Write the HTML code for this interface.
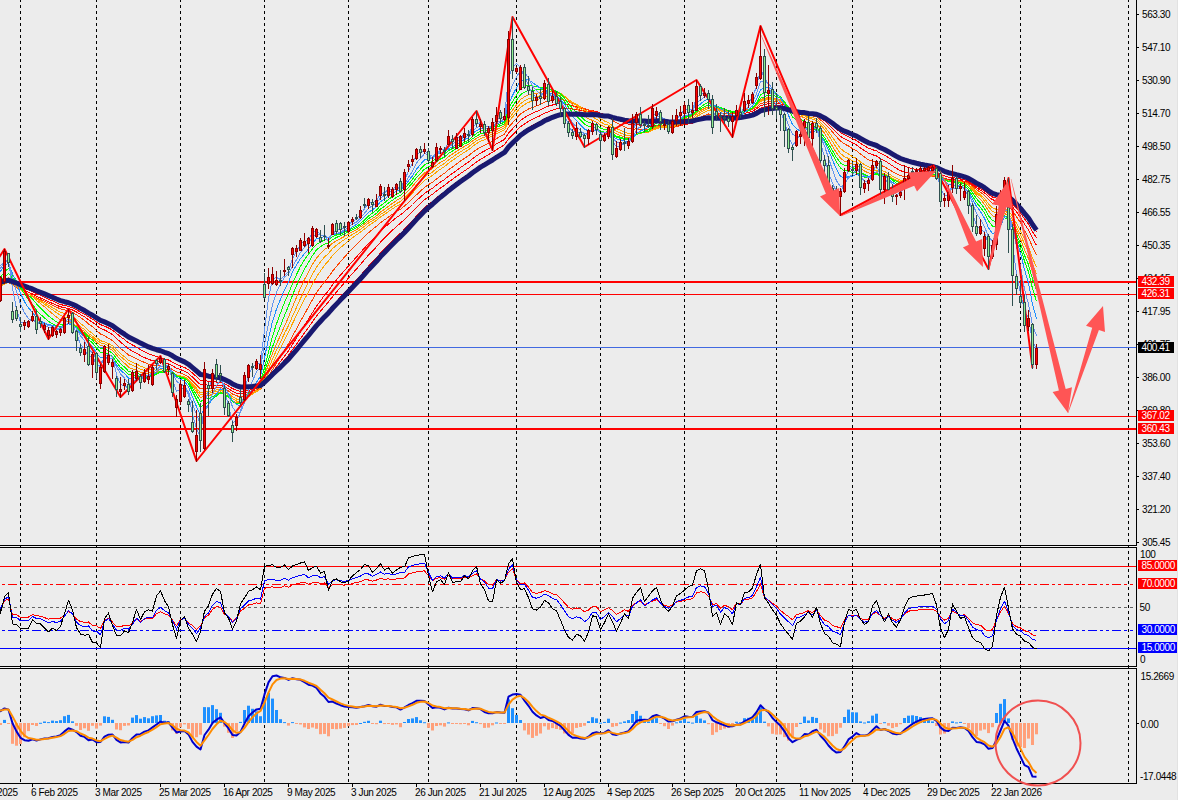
<!DOCTYPE html>
<html><head><meta charset="utf-8"><title>Chart</title>
<style>html,body{margin:0;padding:0;background:#ececec;overflow:hidden}svg{display:block}</style>
</head><body><svg width="1179" height="800" viewBox="0 0 1179 800"><rect width="1179" height="800" fill="#ececec"/><defs><clipPath id="cm"><rect x="0" y="0" width="1136" height="545"/></clipPath><clipPath id="cs"><rect x="0" y="548" width="1136" height="118"/></clipPath><clipPath id="cd"><rect x="0" y="669" width="1136" height="114"/></clipPath></defs><line x1="0" y1="546.5" x2="1137" y2="546.5" stroke="#f4f4f4" stroke-width="1" /><line x1="0" y1="667.5" x2="1137" y2="667.5" stroke="#f4f4f4" stroke-width="1" /><line x1="20.5" y1="0" x2="20.5" y2="783" stroke="#000" stroke-width="1" stroke-dasharray="3 3" stroke-dashoffset="1"/><line x1="96.5" y1="0" x2="96.5" y2="783" stroke="#000" stroke-width="1" stroke-dasharray="3 3" stroke-dashoffset="1"/><line x1="180.5" y1="0" x2="180.5" y2="783" stroke="#000" stroke-width="1" stroke-dasharray="3 3" stroke-dashoffset="1"/><line x1="264.5" y1="0" x2="264.5" y2="783" stroke="#000" stroke-width="1" stroke-dasharray="3 3" stroke-dashoffset="1"/><line x1="348.5" y1="0" x2="348.5" y2="783" stroke="#000" stroke-width="1" stroke-dasharray="3 3" stroke-dashoffset="1"/><line x1="428.5" y1="0" x2="428.5" y2="783" stroke="#000" stroke-width="1" stroke-dasharray="3 3" stroke-dashoffset="1"/><line x1="516.5" y1="0" x2="516.5" y2="783" stroke="#000" stroke-width="1" stroke-dasharray="3 3" stroke-dashoffset="1"/><line x1="600.5" y1="0" x2="600.5" y2="783" stroke="#000" stroke-width="1" stroke-dasharray="3 3" stroke-dashoffset="1"/><line x1="684.5" y1="0" x2="684.5" y2="783" stroke="#000" stroke-width="1" stroke-dasharray="3 3" stroke-dashoffset="1"/><line x1="776.5" y1="0" x2="776.5" y2="783" stroke="#000" stroke-width="1" stroke-dasharray="3 3" stroke-dashoffset="1"/><line x1="852.5" y1="0" x2="852.5" y2="783" stroke="#000" stroke-width="1" stroke-dasharray="3 3" stroke-dashoffset="1"/><line x1="940.5" y1="0" x2="940.5" y2="783" stroke="#000" stroke-width="1" stroke-dasharray="3 3" stroke-dashoffset="1"/><line x1="1020.5" y1="0" x2="1020.5" y2="783" stroke="#000" stroke-width="1" stroke-dasharray="3 3" stroke-dashoffset="1"/><line x1="1128.5" y1="0" x2="1128.5" y2="783" stroke="#000" stroke-width="1" stroke-dasharray="3 3" stroke-dashoffset="1"/><g clip-path="url(#cm)"><line x1="0" y1="282" x2="1136" y2="282" stroke="#ff0000" stroke-width="2" /><line x1="0" y1="294.5" x2="1136" y2="294.5" stroke="#ff0000" stroke-width="1" /><line x1="0" y1="347.5" x2="1136" y2="347.5" stroke="#4169e1" stroke-width="1" /><line x1="0" y1="416.5" x2="1136" y2="416.5" stroke="#ff0000" stroke-width="1" /><line x1="0" y1="429" x2="1136" y2="429" stroke="#ff0000" stroke-width="2" /><polyline points="-3.5,282.5 0.5,282.2 4.5,280.9 8.5,280.0 12.5,281.6 16.5,283.1 20.5,284.9 24.5,286.5 28.5,288.1 32.5,289.5 36.5,291.3 40.5,293.0 44.5,294.6 48.5,296.4 52.5,298.1 56.5,299.9 60.5,301.5 64.5,302.6 68.5,303.6 72.5,305.2 76.5,307.1 80.5,309.4 84.5,311.5 88.5,314.1 92.5,316.2 96.5,319.0 100.5,321.4 104.5,322.9 108.5,324.7 112.5,326.7 116.5,329.8 120.5,332.8 124.5,335.4 128.5,338.3 132.5,340.3 136.5,342.2 140.5,344.6 144.5,346.4 148.5,348.4 152.5,349.9 156.5,351.2 160.5,352.3 164.5,353.9 168.5,355.2 172.5,357.5 176.5,360.0 180.5,361.7 184.5,363.4 188.5,365.8 192.5,369.2 196.5,372.5 200.5,376.0 204.5,376.4 208.5,377.5 212.5,377.9 216.5,378.5 220.5,378.9 224.5,380.6 228.5,382.6 232.5,385.1 236.5,387.0 240.5,388.2 244.5,388.2 248.5,387.7 252.5,387.3 256.5,386.7 260.5,386.1 264.5,382.7 268.5,378.6 272.5,374.4 276.5,370.5 280.5,366.7 284.5,362.5 288.5,358.4 292.5,353.5 296.5,348.6 300.5,343.6 304.5,338.7 308.5,333.7 312.5,328.5 316.5,323.5 320.5,319.0 324.5,314.5 328.5,310.5 332.5,305.8 336.5,301.4 340.5,297.1 344.5,292.9 348.5,288.5 352.5,284.2 356.5,279.9 360.5,275.4 364.5,270.9 368.5,266.2 372.5,262.0 376.5,257.7 380.5,253.1 384.5,248.9 388.5,244.7 392.5,240.7 396.5,236.8 400.5,233.3 404.5,229.2 408.5,224.9 412.5,220.6 416.5,216.1 420.5,211.9 424.5,207.8 428.5,204.5 432.5,201.4 436.5,197.9 440.5,194.6 444.5,191.7 448.5,188.3 452.5,185.3 456.5,182.4 460.5,179.5 464.5,176.6 468.5,174.0 472.5,170.8 476.5,167.9 480.5,165.2 484.5,162.9 488.5,160.6 492.5,158.1 496.5,155.4 500.5,153.0 504.5,150.6 508.5,145.1 512.5,141.1 516.5,137.1 520.5,133.2 524.5,130.3 528.5,127.6 532.5,125.5 536.5,123.4 540.5,121.4 544.5,118.8 548.5,117.2 552.5,115.4 556.5,114.1 560.5,113.0 564.5,112.6 568.5,112.6 572.5,112.8 576.5,112.8 580.5,113.2 584.5,113.7 588.5,113.9 592.5,113.8 596.5,114.1 600.5,114.8 604.5,115.4 608.5,115.7 612.5,117.0 616.5,118.2 620.5,119.1 624.5,120.0 628.5,120.9 632.5,121.1 636.5,120.9 640.5,121.1 644.5,121.4 648.5,121.8 652.5,121.4 656.5,121.1 660.5,121.3 664.5,121.7 668.5,122.3 672.5,122.5 676.5,122.5 680.5,122.3 684.5,121.9 688.5,121.8 692.5,121.6 696.5,120.4 700.5,119.6 704.5,118.7 708.5,118.0 712.5,118.4 716.5,118.3 720.5,118.2 724.5,118.2 728.5,118.3 732.5,118.1 736.5,117.7 740.5,117.4 744.5,116.6 748.5,115.8 752.5,114.7 756.5,112.9 760.5,110.3 764.5,109.2 768.5,108.1 772.5,107.8 776.5,107.5 780.5,107.4 784.5,108.1 788.5,109.4 792.5,110.8 796.5,111.4 800.5,112.2 804.5,112.4 808.5,113.3 812.5,113.6 816.5,114.1 820.5,116.0 824.5,118.1 828.5,120.8 832.5,123.8 836.5,127.0 840.5,129.9 844.5,132.0 848.5,133.5 852.5,135.4 856.5,137.0 860.5,139.5 864.5,141.9 868.5,144.0 872.5,145.5 876.5,146.7 880.5,149.1 884.5,150.8 888.5,153.1 892.5,155.5 896.5,157.8 900.5,159.9 904.5,161.4 908.5,162.7 912.5,163.8 916.5,164.7 920.5,165.6 924.5,166.4 928.5,167.1 932.5,167.8 936.5,168.9 940.5,170.9 944.5,172.6 948.5,174.0 952.5,174.8 956.5,175.8 960.5,176.7 964.5,177.7 968.5,179.2 972.5,181.5 976.5,184.0 980.5,186.1 984.5,188.5 988.5,191.7 992.5,194.4 996.5,195.6 1000.5,196.1 1004.5,195.9 1008.5,197.6 1012.5,201.1 1016.5,205.0 1020.5,209.4 1024.5,214.6 1028.5,219.5 1032.5,226.1 1036.5,231.9" fill="none" stroke="#ff0000" stroke-width="1" stroke-linejoin="round" shape-rendering="crispEdges"/><polyline points="-3.5,282.4 0.5,282.2 4.5,280.9 8.5,280.1 12.5,282.1 16.5,283.9 20.5,286.1 24.5,288.1 28.5,289.9 32.5,291.5 36.5,293.6 40.5,295.4 44.5,297.2 48.5,299.2 52.5,300.9 56.5,302.8 60.5,304.5 64.5,305.5 68.5,306.4 72.5,307.9 76.5,309.8 80.5,312.1 84.5,314.2 88.5,316.9 92.5,319.1 96.5,322.0 100.5,324.6 104.5,326.1 108.5,328.0 112.5,330.1 116.5,333.5 120.5,336.7 124.5,339.6 128.5,342.8 132.5,345.0 136.5,347.1 140.5,349.6 144.5,351.7 148.5,353.7 152.5,355.3 156.5,356.6 160.5,357.5 164.5,358.9 168.5,360.0 172.5,362.1 176.5,364.5 180.5,366.0 184.5,367.4 188.5,369.7 192.5,373.1 196.5,376.6 200.5,380.3 204.5,380.4 208.5,381.4 212.5,381.7 216.5,382.1 220.5,382.3 224.5,384.0 228.5,385.9 232.5,388.6 236.5,390.4 240.5,391.4 244.5,391.1 248.5,390.3 252.5,389.5 256.5,388.5 260.5,387.6 264.5,383.6 268.5,378.7 272.5,373.8 276.5,369.2 280.5,364.8 284.5,359.9 288.5,355.2 292.5,349.6 296.5,344.1 300.5,338.4 304.5,333.0 308.5,327.5 312.5,321.7 316.5,316.1 320.5,311.3 324.5,306.4 328.5,302.0 332.5,296.7 336.5,292.0 340.5,287.3 344.5,282.7 348.5,278.0 352.5,273.4 356.5,269.0 360.5,264.3 364.5,259.7 368.5,255.1 372.5,250.9 376.5,246.8 380.5,242.2 384.5,238.2 388.5,234.1 392.5,230.2 396.5,226.4 400.5,223.2 404.5,219.3 408.5,215.3 412.5,211.4 416.5,207.2 420.5,203.5 424.5,199.8 428.5,196.8 432.5,194.2 436.5,191.1 440.5,188.1 444.5,185.4 448.5,182.1 452.5,179.3 456.5,176.4 460.5,173.6 464.5,170.8 468.5,168.2 472.5,164.9 476.5,162.0 480.5,159.3 484.5,157.1 488.5,154.7 492.5,152.3 496.5,149.6 500.5,147.2 504.5,144.8 508.5,139.0 512.5,134.9 516.5,130.8 520.5,126.8 524.5,123.9 528.5,121.4 532.5,119.4 536.5,117.4 540.5,115.5 544.5,113.1 548.5,111.7 552.5,110.1 556.5,108.9 560.5,108.1 564.5,108.0 568.5,108.4 572.5,109.1 576.5,109.4 580.5,110.2 584.5,111.1 588.5,111.6 592.5,111.9 596.5,112.4 600.5,113.5 604.5,114.3 608.5,114.9 612.5,116.7 616.5,118.2 620.5,119.4 624.5,120.6 628.5,121.8 632.5,122.1 636.5,122.0 640.5,122.4 644.5,122.9 648.5,123.4 652.5,123.0 656.5,122.8 660.5,123.1 664.5,123.6 668.5,124.3 672.5,124.6 676.5,124.6 680.5,124.4 684.5,123.8 688.5,123.4 692.5,123.0 696.5,121.4 700.5,120.2 704.5,118.9 708.5,117.9 712.5,118.2 716.5,117.9 720.5,117.7 724.5,117.5 728.5,117.4 732.5,117.1 736.5,116.5 740.5,116.2 744.5,115.2 748.5,114.2 752.5,113.0 756.5,111.1 760.5,108.2 764.5,107.1 768.5,105.9 772.5,105.6 776.5,105.4 780.5,105.4 784.5,106.3 788.5,108.0 792.5,109.7 796.5,110.6 800.5,111.6 804.5,112.0 808.5,113.2 812.5,113.7 816.5,114.4 820.5,116.6 824.5,119.0 828.5,122.1 832.5,125.5 836.5,129.1 840.5,132.5 844.5,134.8 848.5,136.6 852.5,138.7 856.5,140.5 860.5,143.4 864.5,145.9 868.5,148.2 872.5,149.7 876.5,150.9 880.5,153.4 884.5,155.2 888.5,157.6 892.5,160.1 896.5,162.6 900.5,164.8 904.5,166.3 908.5,167.6 912.5,168.7 916.5,169.6 920.5,170.3 924.5,170.9 928.5,171.4 932.5,171.8 936.5,172.6 940.5,174.4 944.5,175.9 948.5,177.1 952.5,177.5 956.5,178.3 960.5,179.0 964.5,179.9 968.5,181.4 972.5,183.8 976.5,186.3 980.5,188.5 984.5,191.0 988.5,194.3 992.5,197.0 996.5,198.1 1000.5,198.4 1004.5,197.9 1008.5,199.8 1012.5,203.7 1016.5,208.1 1020.5,213.1 1024.5,218.9 1028.5,224.3 1032.5,231.6 1036.5,238.0" fill="none" stroke="#ff0000" stroke-width="1" stroke-linejoin="round" shape-rendering="crispEdges"/><polyline points="-3.5,283.6 0.5,283.5 4.5,282.1 8.5,281.3 12.5,283.5 16.5,285.6 20.5,288.1 24.5,290.3 28.5,292.3 32.5,294.0 36.5,296.2 40.5,298.0 44.5,299.8 48.5,301.8 52.5,303.4 56.5,305.2 60.5,306.8 64.5,307.7 68.5,308.4 72.5,310.0 76.5,312.0 80.5,314.5 84.5,316.8 88.5,319.8 92.5,322.2 96.5,325.4 100.5,328.4 104.5,330.0 108.5,332.1 112.5,334.6 116.5,338.4 120.5,342.1 124.5,345.3 128.5,348.8 132.5,351.2 136.5,353.2 140.5,355.7 144.5,357.6 148.5,359.4 152.5,360.6 156.5,361.4 160.5,361.8 164.5,362.9 168.5,363.7 172.5,365.8 176.5,368.2 180.5,369.6 184.5,371.1 188.5,373.4 192.5,377.1 196.5,380.9 200.5,384.7 204.5,384.6 208.5,385.4 212.5,385.3 216.5,385.4 220.5,385.2 224.5,386.8 228.5,388.7 232.5,391.4 236.5,393.2 240.5,394.1 244.5,393.5 248.5,392.3 252.5,391.2 256.5,389.8 260.5,388.5 264.5,383.7 268.5,377.9 272.5,372.1 276.5,366.8 280.5,361.7 284.5,356.2 288.5,350.7 292.5,344.3 296.5,338.1 300.5,331.6 304.5,325.3 308.5,319.1 312.5,312.5 316.5,306.2 320.5,300.8 324.5,295.3 328.5,290.6 332.5,284.9 336.5,279.9 340.5,275.1 344.5,270.5 348.5,265.9 352.5,261.4 356.5,257.0 360.5,252.5 364.5,248.0 368.5,243.4 372.5,239.4 376.5,235.4 380.5,231.1 384.5,227.6 388.5,224.0 392.5,220.8 396.5,217.5 400.5,214.9 404.5,211.6 408.5,208.1 412.5,204.5 416.5,200.6 420.5,197.0 424.5,193.4 428.5,190.7 432.5,188.2 436.5,185.1 440.5,182.1 444.5,179.5 448.5,176.2 452.5,173.4 456.5,170.4 460.5,167.6 464.5,164.7 468.5,162.1 472.5,158.8 476.5,155.8 480.5,153.1 484.5,151.0 488.5,148.8 492.5,146.5 496.5,143.9 500.5,141.6 504.5,139.4 508.5,133.1 512.5,128.8 516.5,124.5 520.5,120.4 524.5,117.6 528.5,115.1 532.5,113.3 536.5,111.5 540.5,109.9 544.5,107.5 548.5,106.3 552.5,105.0 556.5,104.1 560.5,103.6 564.5,104.0 568.5,104.9 572.5,105.9 576.5,106.7 580.5,107.9 584.5,109.2 588.5,110.1 592.5,110.7 596.5,111.6 600.5,113.2 604.5,114.4 608.5,115.3 612.5,117.6 616.5,119.5 620.5,121.1 624.5,122.7 628.5,124.1 632.5,124.6 636.5,124.6 640.5,125.2 644.5,125.8 648.5,126.4 652.5,126.0 656.5,125.7 660.5,125.9 664.5,126.2 668.5,126.8 672.5,126.7 676.5,126.3 680.5,125.7 684.5,124.7 688.5,124.0 692.5,123.3 696.5,121.2 700.5,119.6 704.5,117.9 708.5,116.5 712.5,116.7 716.5,116.3 720.5,115.9 724.5,115.7 728.5,115.7 732.5,115.4 736.5,114.8 740.5,114.5 744.5,113.4 748.5,112.4 752.5,111.1 756.5,108.9 760.5,105.8 764.5,104.7 768.5,103.5 772.5,103.4 776.5,103.5 780.5,103.8 784.5,104.9 788.5,107.1 792.5,109.2 796.5,110.4 800.5,111.7 804.5,112.2 808.5,113.6 812.5,114.3 816.5,115.1 820.5,117.8 824.5,120.6 828.5,124.3 832.5,128.3 836.5,132.5 840.5,136.3 844.5,138.9 848.5,140.7 852.5,143.0 856.5,144.9 860.5,147.9 864.5,150.7 868.5,153.1 872.5,154.7 876.5,156.0 880.5,158.7 884.5,160.6 888.5,163.1 892.5,165.9 896.5,168.4 900.5,170.7 904.5,172.0 908.5,173.0 912.5,173.6 916.5,174.1 920.5,174.3 924.5,174.5 928.5,174.5 932.5,174.5 936.5,175.0 940.5,176.8 944.5,178.2 948.5,179.3 952.5,179.5 956.5,180.1 960.5,180.6 964.5,181.2 968.5,182.6 972.5,185.0 976.5,187.8 980.5,190.1 984.5,192.8 988.5,196.7 992.5,199.7 996.5,201.0 1000.5,201.3 1004.5,200.6 1008.5,202.6 1012.5,207.0 1016.5,211.9 1020.5,217.5 1024.5,224.1 1028.5,230.0 1032.5,238.3 1036.5,245.4" fill="none" stroke="#ff0000" stroke-width="1" stroke-linejoin="round" shape-rendering="crispEdges"/><polyline points="-3.5,285.8 0.5,285.7 4.5,283.8 8.5,282.6 12.5,285.1 16.5,287.3 20.5,289.9 24.5,292.1 28.5,294.1 32.5,295.6 36.5,297.8 40.5,299.6 44.5,301.4 48.5,303.4 52.5,305.2 56.5,307.1 60.5,308.9 64.5,309.9 68.5,310.6 72.5,312.4 76.5,314.7 80.5,317.6 84.5,320.3 88.5,323.9 92.5,326.7 96.5,330.6 100.5,334.0 104.5,335.9 108.5,338.2 112.5,340.7 116.5,344.7 120.5,348.5 124.5,351.6 128.5,355.0 132.5,356.9 136.5,358.6 140.5,360.8 144.5,362.4 148.5,364.1 152.5,365.0 156.5,365.6 160.5,365.8 164.5,366.8 168.5,367.3 172.5,369.5 176.5,371.9 180.5,373.3 184.5,374.6 188.5,376.9 192.5,380.8 196.5,384.8 200.5,388.9 204.5,388.2 208.5,388.7 212.5,388.2 216.5,387.9 220.5,387.4 224.5,389.0 228.5,391.0 232.5,394.0 236.5,395.8 240.5,396.6 244.5,395.6 248.5,394.0 252.5,392.6 256.5,390.9 260.5,389.3 264.5,383.4 268.5,376.5 272.5,369.5 276.5,363.1 280.5,357.0 284.5,350.3 288.5,343.8 292.5,336.1 296.5,328.8 300.5,321.2 304.5,314.1 308.5,307.0 312.5,299.6 316.5,292.8 320.5,287.2 324.5,281.7 328.5,277.0 332.5,271.3 336.5,266.4 340.5,261.6 344.5,257.1 348.5,252.6 352.5,248.3 356.5,244.4 360.5,240.4 364.5,236.6 368.5,232.7 372.5,229.4 376.5,226.3 380.5,222.6 384.5,219.9 388.5,216.9 392.5,214.2 396.5,211.3 400.5,209.2 404.5,206.0 408.5,202.4 412.5,198.8 416.5,194.8 420.5,191.1 424.5,187.4 428.5,184.7 432.5,182.2 436.5,178.9 440.5,175.9 444.5,173.2 448.5,169.8 452.5,166.9 456.5,164.0 460.5,161.1 464.5,158.3 468.5,155.8 472.5,152.5 476.5,149.6 480.5,147.1 484.5,145.2 488.5,143.2 492.5,141.0 496.5,138.5 500.5,136.4 504.5,134.2 508.5,127.3 512.5,122.8 516.5,118.3 520.5,114.0 524.5,111.3 528.5,109.0 532.5,107.5 536.5,105.9 540.5,104.4 544.5,102.2 548.5,101.2 552.5,100.0 556.5,99.4 560.5,99.3 564.5,100.2 568.5,101.7 572.5,103.5 576.5,104.8 580.5,106.6 584.5,108.6 588.5,110.0 592.5,111.0 596.5,112.4 600.5,114.4 604.5,116.2 608.5,117.4 612.5,120.3 616.5,122.8 620.5,124.8 624.5,126.8 628.5,128.7 632.5,129.2 636.5,128.9 640.5,129.2 644.5,129.5 648.5,129.8 652.5,128.8 656.5,127.9 660.5,127.7 664.5,127.7 668.5,128.0 672.5,127.6 676.5,126.7 680.5,125.7 684.5,124.2 688.5,123.1 692.5,122.0 696.5,119.4 700.5,117.4 704.5,115.5 708.5,114.0 712.5,114.3 716.5,113.9 720.5,113.6 724.5,113.5 728.5,113.6 732.5,113.3 736.5,112.8 740.5,112.6 744.5,111.7 748.5,110.7 752.5,109.5 756.5,107.2 760.5,103.7 764.5,102.6 768.5,101.5 772.5,101.6 776.5,101.8 780.5,102.3 784.5,103.8 788.5,106.5 792.5,109.2 796.5,110.7 800.5,112.4 804.5,113.2 808.5,115.0 812.5,115.8 816.5,116.8 820.5,119.9 824.5,123.2 828.5,127.4 832.5,131.9 836.5,136.7 840.5,141.0 844.5,143.9 848.5,146.0 852.5,148.6 856.5,150.6 860.5,154.1 864.5,157.1 868.5,159.8 872.5,161.3 876.5,162.4 880.5,165.2 884.5,166.8 888.5,169.1 892.5,171.6 896.5,173.8 900.5,175.7 904.5,176.5 908.5,177.1 912.5,177.3 916.5,177.4 920.5,177.3 924.5,177.1 928.5,176.7 932.5,176.3 936.5,176.5 940.5,178.0 944.5,179.3 948.5,180.1 952.5,180.0 956.5,180.6 960.5,181.0 964.5,181.8 968.5,183.4 972.5,186.3 976.5,189.6 980.5,192.2 984.5,195.4 988.5,199.8 992.5,203.3 996.5,204.6 1000.5,204.7 1004.5,203.7 1008.5,205.8 1012.5,210.9 1016.5,216.6 1020.5,223.0 1024.5,230.7 1028.5,237.6 1032.5,247.1 1036.5,255.2" fill="none" stroke="#ff4500" stroke-width="1" stroke-linejoin="round" shape-rendering="crispEdges"/><polyline points="-3.5,287.9 0.5,287.0 4.5,284.0 8.5,282.0 12.5,284.5 16.5,286.8 20.5,289.7 24.5,292.0 28.5,294.2 32.5,295.9 36.5,298.6 40.5,300.7 44.5,302.8 48.5,305.3 52.5,307.5 56.5,310.0 60.5,312.2 64.5,313.4 68.5,314.5 72.5,316.8 76.5,319.7 80.5,323.4 84.5,326.5 88.5,330.5 92.5,333.4 96.5,337.4 100.5,340.7 104.5,341.9 108.5,343.5 112.5,345.6 116.5,349.7 120.5,353.6 124.5,356.8 128.5,360.4 132.5,362.3 136.5,363.9 140.5,366.2 144.5,367.7 148.5,369.2 152.5,369.9 156.5,370.1 160.5,369.8 164.5,370.4 168.5,370.4 172.5,372.4 176.5,374.8 180.5,375.8 184.5,376.8 188.5,379.2 192.5,383.6 196.5,388.2 200.5,392.9 204.5,391.6 208.5,391.8 212.5,390.7 216.5,390.0 220.5,389.2 224.5,390.9 228.5,393.3 232.5,396.8 236.5,399.0 240.5,399.8 244.5,398.4 248.5,396.2 252.5,394.1 256.5,391.6 260.5,389.3 264.5,381.6 268.5,372.6 272.5,363.7 276.5,355.8 280.5,348.2 284.5,340.1 288.5,332.4 292.5,323.5 296.5,315.3 300.5,307.1 304.5,299.3 308.5,291.9 312.5,284.0 316.5,276.8 320.5,271.0 324.5,265.3 328.5,261.0 332.5,255.6 336.5,251.4 340.5,247.6 344.5,244.2 348.5,240.8 352.5,237.7 356.5,234.9 360.5,232.0 364.5,229.0 368.5,225.7 372.5,223.1 376.5,220.4 380.5,216.9 384.5,214.4 388.5,211.5 392.5,208.9 396.5,206.2 400.5,204.2 404.5,200.8 408.5,197.0 412.5,193.0 416.5,188.5 420.5,184.5 424.5,180.6 428.5,177.8 432.5,175.4 436.5,172.1 440.5,169.1 444.5,166.6 448.5,163.2 452.5,160.4 456.5,157.5 460.5,154.9 464.5,152.2 468.5,149.9 472.5,146.5 476.5,143.7 480.5,141.3 484.5,139.7 488.5,137.9 492.5,135.9 496.5,133.6 500.5,131.7 504.5,129.8 508.5,122.0 512.5,117.0 516.5,112.1 520.5,107.5 524.5,104.7 528.5,102.3 532.5,101.1 536.5,99.7 540.5,98.6 544.5,96.5 548.5,96.0 552.5,95.2 556.5,95.1 560.5,95.5 564.5,97.2 568.5,99.7 572.5,102.4 576.5,104.4 580.5,107.1 584.5,110.0 588.5,112.1 592.5,113.7 596.5,115.8 600.5,118.6 604.5,121.0 608.5,122.5 612.5,125.9 616.5,128.5 620.5,130.4 624.5,132.2 628.5,133.6 632.5,133.5 636.5,132.6 640.5,132.4 644.5,132.2 648.5,131.9 652.5,130.1 656.5,128.6 660.5,127.8 664.5,127.3 668.5,127.3 672.5,126.6 676.5,125.4 680.5,124.1 684.5,122.3 688.5,121.1 692.5,119.8 696.5,116.6 700.5,114.4 704.5,112.1 708.5,110.4 712.5,111.1 716.5,110.9 720.5,111.0 724.5,111.2 728.5,111.8 732.5,112.0 736.5,111.7 740.5,111.7 744.5,110.8 748.5,109.9 752.5,108.5 756.5,105.8 760.5,101.5 764.5,100.4 768.5,99.3 772.5,99.7 776.5,100.2 780.5,101.1 784.5,103.2 788.5,106.8 792.5,110.3 796.5,112.1 800.5,114.1 804.5,114.8 808.5,116.8 812.5,117.7 816.5,118.8 820.5,122.5 824.5,126.5 828.5,131.7 832.5,137.4 836.5,143.2 840.5,148.4 844.5,151.7 848.5,153.9 852.5,156.6 856.5,158.5 860.5,161.9 864.5,164.7 868.5,166.9 872.5,167.7 876.5,168.0 880.5,170.4 884.5,171.5 888.5,173.6 892.5,176.1 896.5,178.3 900.5,180.1 904.5,180.5 908.5,180.5 912.5,180.1 916.5,179.4 920.5,178.5 924.5,177.6 928.5,176.7 932.5,175.9 936.5,176.0 940.5,178.0 944.5,179.7 948.5,180.7 952.5,180.6 956.5,181.2 960.5,181.7 964.5,182.5 968.5,184.5 972.5,187.9 976.5,191.8 980.5,194.9 984.5,198.6 988.5,203.8 992.5,207.9 996.5,209.4 1000.5,209.4 1004.5,208.0 1008.5,210.5 1012.5,216.5 1016.5,223.2 1020.5,230.6 1024.5,239.4 1028.5,247.1 1032.5,258.0 1036.5,267.0" fill="none" stroke="#ffa500" stroke-width="1" stroke-linejoin="round" shape-rendering="crispEdges"/><polyline points="-3.5,287.6 0.5,286.4 4.5,282.7 8.5,280.3 12.5,283.0 16.5,285.6 20.5,288.8 24.5,291.5 28.5,294.1 32.5,296.0 36.5,299.1 40.5,301.6 44.5,304.2 48.5,307.1 52.5,309.8 56.5,312.7 60.5,315.3 64.5,316.8 68.5,317.9 72.5,320.3 76.5,323.2 80.5,326.7 84.5,329.6 88.5,333.5 92.5,336.1 96.5,339.8 100.5,342.9 104.5,343.9 108.5,345.6 112.5,347.8 116.5,352.3 120.5,356.4 124.5,359.8 128.5,363.6 132.5,365.4 136.5,366.9 140.5,369.3 144.5,370.6 148.5,372.0 152.5,372.3 156.5,372.0 160.5,371.1 164.5,371.4 168.5,371.1 172.5,373.1 176.5,375.6 180.5,376.5 184.5,377.5 188.5,380.2 192.5,385.0 196.5,389.9 200.5,394.9 204.5,393.3 208.5,393.4 212.5,392.2 216.5,391.4 220.5,390.4 224.5,392.3 228.5,394.8 232.5,398.7 236.5,401.0 240.5,401.7 244.5,399.8 248.5,396.8 252.5,394.1 256.5,390.9 260.5,388.1 264.5,379.3 268.5,369.0 272.5,359.0 276.5,350.1 280.5,341.9 284.5,333.4 288.5,325.5 292.5,316.2 296.5,307.5 300.5,298.5 304.5,290.3 308.5,282.4 312.5,274.3 316.5,267.1 320.5,261.8 324.5,256.9 328.5,253.5 332.5,248.7 336.5,245.3 340.5,242.2 344.5,239.5 348.5,236.9 352.5,234.4 356.5,232.1 360.5,229.2 364.5,226.2 368.5,223.0 372.5,220.6 376.5,218.1 380.5,214.5 384.5,212.0 388.5,209.0 392.5,206.4 396.5,203.5 400.5,201.5 404.5,197.9 408.5,193.9 412.5,189.7 416.5,185.0 420.5,180.9 424.5,176.9 428.5,174.2 432.5,172.0 436.5,168.6 440.5,165.7 444.5,163.4 448.5,159.9 452.5,157.2 456.5,154.4 460.5,151.8 464.5,149.2 468.5,147.0 472.5,143.6 476.5,140.9 480.5,138.5 484.5,137.2 488.5,135.7 492.5,133.9 496.5,131.6 500.5,129.7 504.5,127.9 508.5,119.2 512.5,113.7 516.5,108.5 520.5,103.6 524.5,100.9 528.5,98.7 532.5,97.7 536.5,96.5 540.5,95.7 544.5,93.6 548.5,93.5 552.5,92.9 556.5,93.3 560.5,94.1 564.5,96.3 568.5,99.4 572.5,102.8 576.5,105.4 580.5,108.8 584.5,112.3 588.5,115.0 592.5,116.9 596.5,119.1 600.5,122.0 604.5,124.1 608.5,125.2 612.5,128.6 616.5,131.2 620.5,133.0 624.5,134.7 628.5,136.0 632.5,135.4 636.5,134.0 640.5,133.3 644.5,132.7 648.5,132.1 652.5,129.8 656.5,127.9 660.5,127.0 664.5,126.4 668.5,126.5 672.5,125.8 676.5,124.5 680.5,123.0 684.5,120.9 688.5,119.6 692.5,118.2 696.5,114.8 700.5,112.4 704.5,110.1 708.5,108.5 712.5,109.7 716.5,109.8 720.5,110.1 724.5,110.5 728.5,111.3 732.5,111.6 736.5,111.4 740.5,111.5 744.5,110.5 748.5,109.4 752.5,108.0 756.5,105.1 760.5,100.5 764.5,99.4 768.5,98.3 772.5,98.8 776.5,99.5 780.5,100.6 784.5,103.0 788.5,107.0 792.5,110.8 796.5,112.7 800.5,114.9 804.5,115.8 808.5,118.2 812.5,119.2 816.5,120.5 820.5,124.8 824.5,129.4 828.5,135.2 832.5,141.5 836.5,147.9 840.5,153.4 844.5,156.7 848.5,158.4 852.5,160.7 856.5,162.1 860.5,165.4 864.5,167.9 868.5,169.9 872.5,170.3 876.5,170.3 880.5,172.8 884.5,173.8 888.5,175.8 892.5,178.2 896.5,180.2 900.5,181.7 904.5,181.6 908.5,181.1 912.5,180.3 916.5,179.4 920.5,178.4 924.5,177.5 928.5,176.6 932.5,175.8 936.5,175.9 940.5,178.1 944.5,179.8 948.5,181.0 952.5,180.8 956.5,181.5 960.5,182.0 964.5,182.8 968.5,184.9 972.5,188.8 976.5,193.1 980.5,196.6 984.5,200.9 988.5,206.9 992.5,211.5 996.5,213.0 1000.5,212.6 1004.5,210.7 1008.5,213.3 1012.5,219.7 1016.5,226.8 1020.5,234.7 1024.5,244.1 1028.5,252.4 1032.5,264.3 1036.5,274.0" fill="none" stroke="#ffa500" stroke-width="1" stroke-linejoin="round" shape-rendering="crispEdges"/><polyline points="-3.5,286.3 0.5,284.6 4.5,280.3 8.5,277.5 12.5,280.8 16.5,283.9 20.5,287.8 24.5,291.1 28.5,294.2 32.5,296.7 36.5,300.5 40.5,303.6 44.5,306.8 48.5,310.5 52.5,313.7 56.5,317.1 60.5,319.8 64.5,321.0 68.5,321.5 72.5,323.4 76.5,325.9 80.5,329.2 84.5,331.5 88.5,335.3 92.5,337.8 96.5,342.0 100.5,345.4 104.5,346.3 108.5,348.0 112.5,350.3 116.5,355.1 120.5,359.6 124.5,363.2 128.5,367.2 132.5,368.9 136.5,370.2 140.5,372.4 144.5,373.2 148.5,374.2 152.5,373.9 156.5,373.2 160.5,371.8 164.5,371.9 168.5,371.3 172.5,373.5 176.5,376.3 180.5,377.2 184.5,378.0 188.5,380.7 192.5,386.1 196.5,391.8 200.5,397.6 204.5,395.7 208.5,395.8 212.5,394.2 216.5,393.1 220.5,391.8 224.5,393.8 228.5,396.5 232.5,400.6 236.5,402.7 240.5,403.0 244.5,400.2 248.5,396.5 252.5,393.2 256.5,389.3 260.5,385.9 264.5,375.7 268.5,364.2 272.5,353.3 276.5,343.9 280.5,335.2 284.5,326.0 288.5,317.3 292.5,306.9 296.5,297.4 300.5,287.9 304.5,279.5 308.5,272.0 312.5,264.4 316.5,258.0 320.5,253.6 324.5,249.5 328.5,247.1 332.5,243.2 336.5,240.8 340.5,238.6 344.5,236.4 348.5,234.0 352.5,231.7 356.5,229.6 360.5,226.9 364.5,224.1 368.5,220.9 372.5,218.5 376.5,215.9 380.5,212.0 384.5,209.4 388.5,206.2 392.5,203.4 396.5,200.4 400.5,198.4 404.5,194.8 408.5,190.6 412.5,186.3 416.5,181.3 420.5,177.1 424.5,173.0 428.5,170.5 432.5,168.5 436.5,165.2 440.5,162.4 444.5,160.2 448.5,156.7 452.5,154.1 456.5,151.3 460.5,148.8 464.5,146.3 468.5,144.3 472.5,140.9 476.5,138.4 480.5,136.2 484.5,135.1 488.5,133.8 492.5,131.9 496.5,129.5 500.5,127.6 504.5,125.7 508.5,116.0 512.5,110.2 516.5,104.7 520.5,99.5 524.5,96.8 528.5,94.8 532.5,94.1 536.5,93.2 540.5,92.7 544.5,90.9 548.5,91.1 552.5,91.0 556.5,91.7 560.5,93.1 564.5,96.3 568.5,100.3 572.5,104.6 576.5,108.1 580.5,112.3 584.5,116.2 588.5,118.8 592.5,120.4 596.5,122.2 600.5,124.9 604.5,126.9 608.5,127.8 612.5,131.3 616.5,133.9 620.5,135.5 624.5,136.9 628.5,137.9 632.5,136.7 636.5,134.5 640.5,133.4 644.5,132.5 648.5,131.7 652.5,129.1 656.5,126.9 660.5,125.9 664.5,125.3 668.5,125.5 672.5,124.5 676.5,123.1 680.5,121.4 684.5,119.1 688.5,117.9 692.5,116.6 696.5,113.0 700.5,110.6 704.5,108.4 708.5,106.9 712.5,108.5 716.5,108.8 720.5,109.2 724.5,109.9 728.5,110.9 732.5,111.3 736.5,111.1 740.5,111.4 744.5,110.4 748.5,109.4 752.5,107.9 756.5,104.7 760.5,99.5 764.5,98.4 768.5,97.1 772.5,97.8 776.5,98.5 780.5,99.6 784.5,102.3 788.5,106.8 792.5,111.3 796.5,113.7 800.5,116.4 804.5,117.6 808.5,120.4 812.5,121.7 816.5,123.3 820.5,128.2 824.5,133.3 828.5,139.7 832.5,146.4 836.5,152.9 840.5,158.3 844.5,161.2 848.5,162.3 852.5,164.3 856.5,165.2 860.5,168.4 864.5,171.0 868.5,173.0 872.5,173.2 876.5,172.7 880.5,175.0 884.5,175.6 888.5,177.3 892.5,179.3 896.5,181.0 900.5,182.2 904.5,181.9 908.5,181.4 912.5,180.6 916.5,179.8 920.5,178.8 924.5,177.7 928.5,176.5 932.5,175.3 936.5,175.4 940.5,177.9 944.5,180.0 948.5,181.3 952.5,180.9 956.5,181.6 960.5,182.0 964.5,183.0 968.5,185.5 972.5,190.2 976.5,195.3 980.5,199.5 984.5,204.3 988.5,210.9 992.5,215.9 996.5,217.1 1000.5,216.2 1004.5,213.4 1008.5,215.7 1012.5,222.5 1016.5,230.3 1020.5,239.1 1024.5,249.6 1028.5,258.5 1032.5,271.5 1036.5,281.7" fill="none" stroke="#ff8c00" stroke-width="1" stroke-linejoin="round" shape-rendering="crispEdges"/><polyline points="-3.5,283.6 0.5,281.7 4.5,276.8 8.5,273.6 12.5,277.9 16.5,282.0 20.5,287.0 24.5,291.3 28.5,295.4 32.5,298.9 36.5,303.9 40.5,307.9 44.5,311.8 48.5,315.9 52.5,318.9 56.5,321.9 60.5,324.1 64.5,324.4 68.5,323.8 72.5,324.9 76.5,326.9 80.5,330.2 84.5,332.9 88.5,337.2 92.5,340.0 96.5,344.7 100.5,348.4 104.5,349.1 108.5,350.8 112.5,353.1 116.5,358.5 120.5,363.4 124.5,367.1 128.5,371.2 132.5,372.3 136.5,373.0 140.5,374.8 144.5,375.2 148.5,375.8 152.5,375.1 156.5,373.9 160.5,372.1 164.5,372.0 168.5,371.1 172.5,373.3 176.5,376.1 180.5,377.0 184.5,378.1 188.5,381.5 192.5,388.2 196.5,394.9 200.5,401.7 204.5,399.1 208.5,398.9 212.5,396.8 216.5,395.1 220.5,393.0 224.5,394.8 228.5,397.3 232.5,401.5 236.5,403.6 240.5,403.5 244.5,400.0 248.5,395.3 252.5,391.1 256.5,386.8 260.5,383.4 264.5,372.3 268.5,359.3 272.5,346.9 276.5,336.0 280.5,326.1 284.5,315.5 288.5,306.0 292.5,295.1 296.5,285.7 300.5,276.7 304.5,269.2 308.5,262.4 312.5,255.5 316.5,249.8 320.5,246.7 324.5,244.1 328.5,243.0 332.5,239.6 336.5,237.5 340.5,235.6 344.5,233.8 348.5,231.8 352.5,229.8 356.5,227.8 360.5,225.2 364.5,222.2 368.5,218.7 372.5,216.2 376.5,213.3 380.5,209.0 384.5,206.3 388.5,202.9 392.5,200.2 396.5,197.2 400.5,195.4 404.5,191.6 408.5,187.3 412.5,182.8 416.5,177.6 420.5,173.3 424.5,169.1 428.5,166.8 432.5,165.0 436.5,161.7 440.5,159.0 444.5,157.0 448.5,153.5 452.5,151.0 456.5,148.4 460.5,146.1 464.5,143.8 468.5,142.2 472.5,138.8 476.5,136.2 480.5,133.9 484.5,132.9 488.5,131.6 492.5,129.7 496.5,127.3 500.5,125.6 504.5,123.8 508.5,112.8 512.5,106.3 516.5,100.3 520.5,94.7 524.5,92.2 528.5,90.4 532.5,90.2 536.5,89.9 540.5,89.8 544.5,88.2 548.5,89.1 552.5,89.7 556.5,91.4 560.5,93.8 564.5,98.1 568.5,103.5 572.5,108.5 576.5,112.1 580.5,116.2 584.5,120.0 588.5,122.4 592.5,123.5 596.5,125.2 600.5,128.0 604.5,129.8 608.5,130.2 612.5,133.8 616.5,136.1 620.5,137.3 624.5,138.4 628.5,139.0 632.5,137.3 636.5,134.6 640.5,133.2 644.5,132.1 648.5,131.2 652.5,128.1 656.5,125.5 660.5,124.2 664.5,123.5 668.5,123.8 672.5,122.8 676.5,121.4 680.5,119.8 684.5,117.6 688.5,116.6 692.5,115.6 696.5,111.7 700.5,109.1 704.5,106.5 708.5,105.0 712.5,107.2 716.5,107.7 720.5,108.3 724.5,109.2 728.5,110.6 732.5,111.4 736.5,111.4 740.5,112.1 744.5,111.0 748.5,109.9 752.5,108.2 756.5,104.4 760.5,98.1 764.5,96.7 768.5,94.9 772.5,95.5 776.5,96.4 780.5,98.0 784.5,101.6 788.5,107.3 792.5,113.0 796.5,116.1 800.5,119.4 804.5,120.9 808.5,124.2 812.5,125.5 816.5,127.1 820.5,132.3 824.5,137.4 828.5,143.9 832.5,150.7 836.5,157.5 840.5,163.0 844.5,165.4 848.5,166.1 852.5,167.8 856.5,168.7 860.5,172.1 864.5,174.6 868.5,176.2 872.5,175.6 876.5,174.1 880.5,175.9 884.5,175.7 888.5,177.1 892.5,179.4 896.5,181.4 900.5,183.1 904.5,183.0 908.5,182.5 912.5,181.5 916.5,180.3 920.5,178.7 924.5,177.3 928.5,175.9 932.5,174.6 936.5,174.6 940.5,177.4 944.5,179.7 948.5,181.1 952.5,180.7 956.5,181.7 960.5,182.6 964.5,184.1 968.5,187.2 972.5,192.7 976.5,198.6 980.5,203.2 984.5,208.5 988.5,215.7 992.5,220.8 996.5,221.4 1000.5,219.4 1004.5,215.5 1008.5,217.9 1012.5,225.7 1016.5,234.3 1020.5,243.8 1024.5,255.3 1028.5,264.7 1032.5,279.0 1036.5,290.1" fill="none" stroke="#00ff00" stroke-width="1" stroke-linejoin="round" shape-rendering="crispEdges"/><polyline points="-3.5,279.4 0.5,277.3 4.5,271.7 8.5,268.5 12.5,274.7 16.5,280.6 20.5,287.8 24.5,294.0 28.5,299.8 32.5,304.4 36.5,310.3 40.5,314.4 44.5,317.9 48.5,321.4 52.5,323.7 56.5,325.7 60.5,326.5 64.5,325.4 68.5,323.9 72.5,325.2 76.5,327.5 80.5,331.5 84.5,334.5 88.5,339.6 92.5,342.7 96.5,348.1 100.5,352.2 104.5,352.6 108.5,354.1 112.5,356.4 116.5,362.3 120.5,367.3 124.5,370.6 128.5,374.6 132.5,375.1 136.5,375.2 140.5,376.9 144.5,376.9 148.5,377.3 152.5,376.2 156.5,374.2 160.5,371.4 164.5,370.6 168.5,369.2 172.5,372.2 176.5,376.1 180.5,377.6 184.5,379.2 188.5,383.4 192.5,391.5 196.5,399.5 200.5,407.6 204.5,403.7 208.5,402.7 212.5,399.0 216.5,395.9 220.5,392.4 224.5,393.9 228.5,396.7 232.5,401.6 236.5,403.6 240.5,403.2 244.5,398.9 248.5,393.9 252.5,390.2 256.5,385.6 260.5,381.8 264.5,367.8 268.5,351.7 272.5,336.4 276.5,323.8 280.5,313.0 284.5,302.5 288.5,293.7 292.5,283.4 296.5,274.7 300.5,266.3 304.5,259.7 308.5,254.2 312.5,248.7 316.5,244.2 320.5,242.3 324.5,239.9 328.5,239.6 332.5,236.4 336.5,235.0 340.5,233.7 344.5,232.3 348.5,230.4 352.5,228.4 356.5,226.4 360.5,223.5 364.5,220.0 368.5,215.9 372.5,213.1 376.5,210.1 380.5,205.6 384.5,202.9 388.5,199.4 392.5,196.8 396.5,193.9 400.5,192.6 404.5,188.7 408.5,184.1 412.5,179.4 416.5,173.7 420.5,169.2 424.5,164.8 428.5,162.8 432.5,161.4 436.5,158.2 440.5,155.6 444.5,154.0 448.5,150.5 452.5,148.5 456.5,146.3 460.5,144.2 464.5,142.0 468.5,140.3 472.5,136.4 476.5,133.4 480.5,131.1 484.5,130.6 488.5,129.5 492.5,127.9 496.5,125.5 500.5,123.8 504.5,122.2 508.5,108.9 512.5,101.7 516.5,94.9 520.5,88.9 524.5,86.6 528.5,85.3 532.5,85.9 536.5,86.5 540.5,87.6 544.5,86.7 548.5,89.0 552.5,90.7 556.5,93.8 560.5,96.8 564.5,101.7 568.5,107.2 572.5,112.4 576.5,115.8 580.5,120.0 584.5,124.1 588.5,126.4 592.5,127.2 596.5,128.4 600.5,130.9 604.5,132.2 608.5,131.7 612.5,135.2 616.5,137.4 620.5,138.4 624.5,139.5 628.5,140.1 632.5,137.9 636.5,134.5 640.5,132.8 644.5,131.3 648.5,129.9 652.5,126.0 656.5,122.9 660.5,121.5 664.5,121.0 668.5,121.9 672.5,121.4 676.5,120.3 680.5,119.0 684.5,116.8 688.5,115.8 692.5,114.6 696.5,110.0 700.5,107.2 704.5,104.3 708.5,102.5 712.5,105.4 716.5,106.3 720.5,107.6 724.5,109.3 728.5,111.4 732.5,112.6 736.5,112.8 740.5,113.6 744.5,112.3 748.5,110.7 752.5,108.1 756.5,102.9 760.5,94.7 764.5,93.0 768.5,91.3 772.5,92.7 776.5,94.3 780.5,96.9 784.5,102.0 788.5,109.5 792.5,116.8 796.5,120.7 800.5,124.7 804.5,126.2 808.5,129.5 812.5,129.7 816.5,130.1 820.5,135.1 824.5,140.2 828.5,147.2 832.5,154.5 836.5,162.0 840.5,168.1 844.5,170.8 848.5,171.1 852.5,172.5 856.5,172.5 860.5,175.6 864.5,177.3 868.5,177.8 872.5,175.8 876.5,173.1 880.5,175.0 884.5,174.9 888.5,177.1 892.5,180.4 896.5,183.2 900.5,185.1 904.5,184.6 908.5,183.4 912.5,181.9 916.5,180.3 920.5,178.5 924.5,176.6 928.5,174.5 932.5,172.7 936.5,172.7 940.5,176.4 944.5,179.5 948.5,181.7 952.5,181.7 956.5,183.3 960.5,184.4 964.5,186.0 968.5,189.6 972.5,195.9 976.5,202.6 980.5,207.3 984.5,212.8 988.5,220.7 992.5,226.1 996.5,226.2 1000.5,223.2 1004.5,217.6 1008.5,219.5 1012.5,228.0 1016.5,237.4 1020.5,248.0 1024.5,261.0 1028.5,271.9 1032.5,288.6 1036.5,301.2" fill="none" stroke="#00ff00" stroke-width="1" stroke-linejoin="round" shape-rendering="crispEdges"/><polyline points="-3.5,272.7 0.5,271.2 4.5,265.4 8.5,263.2 12.5,273.5 16.5,282.9 20.5,293.4 24.5,301.6 28.5,308.1 32.5,312.3 36.5,317.8 40.5,321.0 44.5,323.0 48.5,324.6 52.5,325.3 56.5,326.6 60.5,327.4 64.5,325.9 68.5,323.8 72.5,325.2 76.5,328.1 80.5,333.0 84.5,336.7 88.5,343.0 92.5,346.5 96.5,353.0 100.5,357.6 104.5,356.9 108.5,357.4 112.5,358.7 116.5,364.9 120.5,370.3 124.5,373.6 128.5,378.1 132.5,378.0 136.5,377.6 140.5,379.4 144.5,378.6 148.5,378.0 152.5,375.2 156.5,372.2 160.5,368.7 164.5,368.4 168.5,367.5 172.5,372.0 176.5,377.4 180.5,379.4 184.5,381.4 188.5,387.0 192.5,397.1 196.5,406.6 200.5,415.3 204.5,408.3 208.5,405.0 212.5,398.9 216.5,394.1 220.5,389.0 224.5,390.6 228.5,393.7 232.5,400.6 236.5,404.5 240.5,406.0 244.5,401.3 248.5,394.9 252.5,389.0 256.5,382.2 260.5,376.4 264.5,358.0 268.5,338.3 272.5,321.4 276.5,309.0 280.5,299.4 284.5,289.7 288.5,281.9 292.5,272.1 296.5,264.8 300.5,258.5 304.5,253.7 308.5,249.0 312.5,243.2 316.5,238.7 320.5,237.8 324.5,236.5 328.5,237.7 332.5,234.8 336.5,233.9 340.5,232.7 344.5,231.4 348.5,229.4 352.5,226.9 356.5,224.4 360.5,220.8 364.5,216.8 368.5,212.5 372.5,209.7 376.5,206.8 380.5,201.7 384.5,199.3 388.5,195.9 392.5,193.6 396.5,190.9 400.5,190.3 404.5,186.1 408.5,181.0 412.5,175.7 416.5,169.3 420.5,164.4 424.5,159.8 428.5,158.3 432.5,157.8 436.5,154.8 440.5,153.0 444.5,152.3 448.5,148.9 452.5,147.0 456.5,144.5 460.5,142.1 464.5,139.4 468.5,137.7 472.5,133.4 476.5,130.6 480.5,128.5 484.5,128.6 488.5,127.9 492.5,126.4 496.5,123.8 500.5,122.3 504.5,120.7 508.5,104.1 512.5,95.5 516.5,87.7 520.5,80.9 524.5,79.6 528.5,79.7 532.5,82.6 536.5,85.2 540.5,88.5 544.5,89.2 548.5,92.5 552.5,94.2 556.5,96.6 560.5,99.2 564.5,104.3 568.5,110.5 572.5,116.6 576.5,120.4 580.5,125.2 584.5,129.2 588.5,130.8 592.5,130.2 596.5,130.4 600.5,132.3 604.5,132.8 608.5,131.7 612.5,136.1 616.5,138.8 620.5,140.0 624.5,141.3 628.5,141.9 632.5,138.6 636.5,133.5 640.5,131.0 644.5,129.0 648.5,127.2 652.5,122.5 656.5,119.2 660.5,118.6 664.5,119.2 668.5,121.4 672.5,121.6 676.5,120.3 680.5,118.7 684.5,115.9 688.5,115.0 692.5,113.6 696.5,107.5 700.5,103.9 704.5,100.6 708.5,99.3 712.5,104.1 716.5,106.2 720.5,108.5 724.5,110.9 728.5,113.8 732.5,115.4 736.5,115.2 740.5,115.5 744.5,112.6 748.5,109.6 752.5,105.9 756.5,99.3 760.5,89.4 764.5,88.0 768.5,86.9 772.5,90.0 776.5,93.3 780.5,97.7 784.5,105.0 788.5,115.3 792.5,124.6 796.5,128.6 800.5,131.6 804.5,131.1 808.5,133.1 812.5,131.6 816.5,130.6 820.5,136.0 824.5,141.6 828.5,150.3 832.5,159.9 836.5,169.3 840.5,176.4 844.5,178.1 848.5,176.6 852.5,176.4 856.5,173.9 860.5,176.0 864.5,176.8 868.5,176.9 872.5,174.3 876.5,171.6 880.5,175.1 884.5,175.6 888.5,178.4 892.5,182.2 896.5,185.1 900.5,187.2 904.5,186.3 908.5,184.8 912.5,182.5 916.5,179.6 920.5,176.7 924.5,173.9 928.5,171.5 932.5,169.6 936.5,170.6 940.5,176.6 944.5,181.4 948.5,184.4 952.5,184.3 956.5,186.0 960.5,186.8 964.5,188.2 968.5,191.9 972.5,198.9 976.5,206.3 980.5,211.6 984.5,218.2 988.5,227.9 992.5,233.6 996.5,231.9 1000.5,225.9 1004.5,216.7 1008.5,217.8 1012.5,228.0 1016.5,239.9 1020.5,253.2 1024.5,269.6 1028.5,283.1 1032.5,304.2 1036.5,318.8" fill="none" stroke="#1e90ff" stroke-width="1" stroke-linejoin="round" shape-rendering="crispEdges"/><polyline points="-3.5,263.8 0.5,265.8 4.5,261.1 8.5,261.5 12.5,278.1 16.5,291.3 20.5,304.1 24.5,312.7 28.5,318.8 32.5,320.1 36.5,322.6 40.5,322.9 44.5,323.5 48.5,325.6 52.5,326.4 56.5,328.1 60.5,328.6 64.5,325.9 68.5,322.5 72.5,324.5 76.5,328.7 80.5,335.7 84.5,340.9 88.5,349.3 92.5,352.8 96.5,359.5 100.5,362.9 104.5,359.0 108.5,357.9 112.5,358.6 116.5,367.0 120.5,373.9 124.5,378.1 128.5,384.0 132.5,382.2 136.5,379.3 140.5,379.2 144.5,376.8 148.5,376.0 152.5,373.0 156.5,370.0 160.5,366.0 164.5,366.4 168.5,365.8 172.5,373.0 176.5,381.4 180.5,384.0 184.5,386.0 188.5,392.0 192.5,404.2 196.5,414.4 200.5,424.0 204.5,411.4 208.5,405.0 212.5,394.0 216.5,385.8 220.5,379.5 224.5,385.2 228.5,394.8 232.5,407.0 236.5,412.9 240.5,412.3 244.5,402.9 248.5,390.6 252.5,380.9 256.5,371.8 260.5,366.9 264.5,345.3 268.5,323.1 272.5,304.7 276.5,292.3 280.5,284.3 284.5,277.0 288.5,274.0 292.5,266.2 296.5,259.8 300.5,252.4 304.5,247.1 308.5,243.0 312.5,237.4 316.5,234.1 320.5,235.2 324.5,235.1 328.5,237.9 332.5,234.4 336.5,233.6 340.5,232.0 344.5,230.0 348.5,227.1 352.5,224.0 356.5,222.0 360.5,217.9 364.5,213.3 368.5,208.2 372.5,205.9 376.5,203.3 380.5,197.6 384.5,196.0 388.5,192.8 392.5,191.0 396.5,188.3 400.5,188.5 404.5,183.8 408.5,177.4 412.5,171.0 416.5,163.2 420.5,158.1 424.5,153.7 428.5,154.4 432.5,156.2 436.5,153.9 440.5,152.4 444.5,151.9 448.5,147.0 452.5,144.3 456.5,141.3 460.5,139.2 464.5,136.8 468.5,135.6 472.5,130.7 476.5,127.7 480.5,125.8 484.5,126.9 488.5,127.0 492.5,125.6 496.5,122.8 500.5,121.1 504.5,119.0 508.5,95.4 512.5,85.0 516.5,76.8 520.5,70.9 524.5,73.0 528.5,77.4 532.5,86.0 536.5,90.7 540.5,94.5 544.5,92.5 548.5,95.0 552.5,95.3 556.5,97.3 560.5,100.7 564.5,107.8 568.5,116.2 572.5,123.2 576.5,126.6 580.5,130.8 584.5,133.9 588.5,133.3 592.5,130.4 596.5,129.7 600.5,132.3 604.5,133.0 608.5,131.4 612.5,138.1 616.5,141.9 620.5,142.8 624.5,143.4 628.5,143.2 632.5,137.7 636.5,129.7 640.5,126.5 644.5,124.8 648.5,124.1 652.5,119.1 656.5,116.5 660.5,117.4 664.5,118.8 668.5,122.1 672.5,122.4 676.5,121.1 680.5,118.7 684.5,114.2 688.5,112.5 692.5,110.8 696.5,103.2 700.5,99.9 704.5,97.0 708.5,96.6 712.5,104.6 716.5,108.4 720.5,112.2 724.5,115.2 728.5,118.0 732.5,118.0 736.5,115.5 740.5,114.9 744.5,110.7 748.5,106.9 752.5,102.2 756.5,94.0 760.5,81.6 764.5,82.0 768.5,83.0 772.5,89.6 776.5,96.1 780.5,103.4 784.5,113.4 788.5,125.1 792.5,134.4 796.5,135.7 800.5,136.8 804.5,133.0 808.5,133.4 812.5,129.5 816.5,128.0 820.5,136.9 824.5,145.8 828.5,158.1 832.5,169.9 836.5,180.8 840.5,186.8 844.5,184.3 848.5,177.8 852.5,174.4 856.5,169.9 860.5,173.2 864.5,175.8 868.5,177.9 872.5,175.3 876.5,171.3 880.5,175.8 884.5,175.4 888.5,179.2 892.5,184.7 896.5,189.2 900.5,191.4 904.5,188.1 908.5,184.5 912.5,180.0 916.5,175.9 920.5,172.3 924.5,170.1 928.5,168.7 932.5,167.9 936.5,170.5 940.5,179.5 944.5,186.1 948.5,189.6 952.5,187.9 956.5,188.6 960.5,187.7 964.5,187.8 968.5,192.4 972.5,202.7 976.5,213.4 980.5,219.4 984.5,226.5 988.5,237.0 992.5,241.1 996.5,234.6 1000.5,223.4 1004.5,209.5 1008.5,211.7 1012.5,227.4 1016.5,246.0 1020.5,266.4 1024.5,289.3 1028.5,304.0 1032.5,325.3 1036.5,335.6" fill="none" stroke="#6495ed" stroke-width="1" stroke-linejoin="round" shape-rendering="crispEdges"/><polyline points="-3.5,259.5 0.5,268.7 4.5,261.1 8.5,260.8 12.5,288.7 16.5,309.0 20.5,322.2 24.5,322.7 28.5,322.2 32.5,318.7 36.5,323.3 40.5,323.8 44.5,325.0 48.5,327.2 52.5,327.7 56.5,329.5 60.5,329.3 64.5,323.8 68.5,318.3 72.5,324.0 76.5,333.2 80.5,344.7 84.5,348.5 88.5,357.0 92.5,356.5 96.5,364.7 100.5,366.5 104.5,357.3 108.5,354.0 112.5,357.0 116.5,374.3 120.5,384.5 124.5,386.0 128.5,388.0 132.5,380.2 136.5,374.7 140.5,376.7 144.5,375.7 148.5,376.0 152.5,371.0 156.5,366.5 160.5,361.2 164.5,365.3 168.5,366.3 172.5,379.8 176.5,391.2 180.5,390.3 184.5,387.0 188.5,394.3 192.5,414.3 196.5,428.5 200.5,436.8 204.5,403.7 208.5,390.3 212.5,377.3 216.5,377.5 220.5,375.3 224.5,391.3 228.5,405.7 232.5,422.2 236.5,421.7 240.5,412.0 244.5,391.0 248.5,374.5 252.5,367.7 256.5,363.7 260.5,363.5 264.5,330.0 268.5,298.2 272.5,278.8 276.5,277.5 280.5,279.5 284.5,275.3 288.5,271.3 292.5,258.7 296.5,251.5 300.5,244.0 304.5,241.8 308.5,239.3 312.5,233.5 316.5,230.2 320.5,234.8 324.5,236.5 328.5,241.3 332.5,233.0 336.5,231.0 340.5,228.8 344.5,228.3 348.5,224.8 352.5,221.3 356.5,219.0 360.5,214.2 364.5,208.8 368.5,202.8 372.5,202.5 376.5,201.2 380.5,193.7 384.5,192.8 388.5,189.5 392.5,189.3 396.5,186.2 400.5,188.3 404.5,180.3 408.5,171.2 412.5,162.8 416.5,154.8 420.5,152.2 424.5,150.0 428.5,155.0 432.5,159.2 436.5,154.2 440.5,150.0 444.5,149.3 448.5,143.0 452.5,141.0 456.5,138.2 460.5,137.2 464.5,134.7 468.5,134.5 472.5,126.7 476.5,123.7 480.5,122.8 484.5,127.8 488.5,128.7 492.5,125.7 496.5,119.5 500.5,117.7 504.5,116.5 508.5,77.8 512.5,67.3 516.5,63.8 520.5,67.8 524.5,77.2 528.5,85.2 532.5,94.5 536.5,96.8 540.5,98.0 544.5,90.3 548.5,94.5 552.5,95.5 556.5,100.3 560.5,104.3 564.5,114.7 568.5,125.0 572.5,132.0 576.5,131.0 580.5,133.2 584.5,135.7 588.5,133.7 592.5,127.8 596.5,127.2 600.5,133.5 604.5,135.7 608.5,131.8 612.5,141.8 616.5,146.5 620.5,146.0 624.5,143.5 628.5,141.8 632.5,132.3 636.5,121.5 640.5,120.5 644.5,122.8 648.5,125.3 652.5,116.8 656.5,112.5 660.5,115.5 664.5,120.8 668.5,127.0 672.5,124.8 676.5,119.7 680.5,114.5 684.5,109.0 688.5,109.7 692.5,109.8 696.5,98.3 700.5,94.5 704.5,92.5 708.5,96.3 712.5,112.0 716.5,116.3 720.5,117.5 724.5,116.8 728.5,119.2 732.5,118.0 736.5,113.8 740.5,113.0 744.5,106.8 748.5,102.7 752.5,97.2 756.5,86.5 760.5,69.3 764.5,77.5 768.5,85.0 772.5,99.3 776.5,105.5 780.5,111.3 784.5,121.2 788.5,136.3 792.5,145.5 796.5,139.8 800.5,135.5 804.5,127.0 808.5,131.2 812.5,127.3 816.5,127.3 820.5,142.8 824.5,157.0 828.5,172.7 832.5,183.2 836.5,191.7 840.5,192.5 844.5,182.3 848.5,169.2 852.5,167.0 856.5,165.3 860.5,176.5 864.5,181.2 868.5,182.2 872.5,173.0 876.5,165.5 880.5,175.7 884.5,177.8 888.5,184.7 892.5,190.3 896.5,194.3 900.5,193.7 904.5,185.5 908.5,178.8 912.5,174.0 916.5,171.5 920.5,169.3 924.5,168.3 928.5,167.5 932.5,167.2 936.5,172.5 940.5,187.7 944.5,195.7 948.5,195.5 952.5,186.0 956.5,185.3 960.5,185.3 964.5,188.8 968.5,197.2 972.5,213.2 976.5,226.0 980.5,228.3 984.5,232.2 988.5,244.3 992.5,247.2 996.5,231.3 1000.5,210.2 1004.5,191.0 1008.5,207.2 1012.5,243.8 1016.5,273.8 1020.5,292.8 1024.5,311.2 1028.5,317.7 1032.5,342.2 1036.5,348.3" fill="none" stroke="#6495ed" stroke-width="1" stroke-linejoin="round" shape-rendering="crispEdges"/><polyline points="-3.5,282.6 0.5,282.3 4.5,281.0 8.5,280.2 12.5,281.6 16.5,283.0 20.5,284.7 24.5,286.2 28.5,287.7 32.5,289.0 36.5,290.8 40.5,292.3 44.5,293.9 48.5,295.6 52.5,297.2 56.5,299.0 60.5,300.6 64.5,301.7 68.5,302.7 72.5,304.3 76.5,306.1 80.5,308.4 84.5,310.5 88.5,313.1 92.5,315.2 96.5,317.9 100.5,320.4 104.5,321.9 108.5,323.7 112.5,325.7 116.5,328.7 120.5,331.6 124.5,334.2 128.5,337.0 132.5,339.0 136.5,340.9 140.5,343.1 144.5,345.0 148.5,346.9 152.5,348.4 156.5,349.7 160.5,350.7 164.5,352.3 168.5,353.6 172.5,355.8 176.5,358.3 180.5,360.1 184.5,361.9 188.5,364.3 192.5,367.6 196.5,371.0 200.5,374.5 204.5,375.0 208.5,376.2 212.5,376.7 216.5,377.3 220.5,377.8 224.5,379.5 228.5,381.4 232.5,383.9 236.5,385.8 240.5,387.0 244.5,387.1 248.5,386.7 252.5,386.5 256.5,385.9 260.5,385.4 264.5,382.3 268.5,378.4 272.5,374.4 276.5,370.7 280.5,367.1 284.5,363.1 288.5,359.2 292.5,354.4 296.5,349.8 300.5,345.0 304.5,340.2 308.5,335.5 312.5,330.5 316.5,325.6 320.5,321.2 324.5,316.9 328.5,312.9 332.5,308.3 336.5,304.1 340.5,299.9 344.5,295.7 348.5,291.5 352.5,287.2 356.5,283.1 360.5,278.7 364.5,274.3 368.5,269.7 372.5,265.5 376.5,261.3 380.5,256.6 384.5,252.5 388.5,248.2 392.5,244.2 396.5,240.2 400.5,236.6 404.5,232.5 408.5,228.2 412.5,223.9 416.5,219.4 420.5,215.2 424.5,211.0 428.5,207.5 432.5,204.2 436.5,200.6 440.5,197.2 444.5,194.1 448.5,190.7 452.5,187.6 456.5,184.5 460.5,181.5 464.5,178.7 468.5,176.0 472.5,172.8 476.5,169.9 480.5,167.1 484.5,164.8 488.5,162.4 492.5,160.0 496.5,157.3 500.5,154.9 504.5,152.4 508.5,147.1 512.5,143.1 516.5,139.2 520.5,135.3 524.5,132.4 528.5,129.7 532.5,127.6 536.5,125.4 540.5,123.3 544.5,120.8 548.5,119.1 552.5,117.3 556.5,115.8 560.5,114.7 564.5,114.2 568.5,114.1 572.5,114.2 576.5,114.1 580.5,114.3 584.5,114.7 588.5,114.8 592.5,114.6 596.5,114.8 600.5,115.4 604.5,115.9 608.5,116.1 612.5,117.4 616.5,118.4 620.5,119.2 624.5,120.1 628.5,120.8 632.5,120.9 636.5,120.7 640.5,120.9 644.5,121.1 648.5,121.4 652.5,121.1 656.5,120.8 660.5,121.0 664.5,121.3 668.5,121.8 672.5,122.0 676.5,122.0 680.5,121.8 684.5,121.4 688.5,121.2 692.5,121.0 696.5,119.9 700.5,119.1 704.5,118.3 708.5,117.8 712.5,118.3 716.5,118.2 720.5,118.2 724.5,118.2 728.5,118.3 732.5,118.2 736.5,117.9 740.5,117.6 744.5,116.9 748.5,116.1 752.5,115.1 756.5,113.4 760.5,110.9 764.5,109.9 768.5,108.8 772.5,108.4 776.5,108.1 780.5,108.1 784.5,108.6 788.5,109.9 792.5,111.2 796.5,111.8 800.5,112.5 804.5,112.6 808.5,113.5 812.5,113.7 816.5,114.2 820.5,115.9 824.5,117.9 828.5,120.5 832.5,123.3 836.5,126.4 840.5,129.2 844.5,131.2 848.5,132.7 852.5,134.5 856.5,136.1 860.5,138.5 864.5,140.7 868.5,142.8 872.5,144.2 876.5,145.5 880.5,147.8 884.5,149.5 888.5,151.7 892.5,154.1 896.5,156.4 900.5,158.5 904.5,159.9 908.5,161.2 912.5,162.3 916.5,163.3 920.5,164.2 924.5,165.0 928.5,165.7 932.5,166.5 936.5,167.6 940.5,169.5 944.5,171.3 948.5,172.7 952.5,173.6 956.5,174.7 960.5,175.7 964.5,176.8 968.5,178.4 972.5,180.7 976.5,183.1 980.5,185.2 984.5,187.7 988.5,190.8 992.5,193.4 996.5,194.7 1000.5,195.2 1004.5,195.0 1008.5,196.8 1012.5,200.2 1016.5,204.1 1020.5,208.4 1024.5,213.4 1028.5,218.1 1032.5,224.5 1036.5,230.1" fill="none" stroke="#191970" stroke-width="5" stroke-linejoin="round" /><polyline points="-47.5,330.0 4.5,249.0 48.5,339.0 68.5,309.0 120.5,397.0 160.5,356.0 196.5,461.0 476.5,111.0 492.5,150.0 512.5,17.0 584.5,147.0 696.5,80.0 732.5,137.0 760.5,26.0 840.5,215.0 933.5,165.5 988.5,269.0 1008.5,178.0 1032.5,368.0" fill="none" stroke="#ff0000" stroke-width="2" stroke-linejoin="round" /><line x1="0.5" y1="276" x2="0.5" y2="302" stroke="#8b0000" stroke-width="1"/><rect x="-0.5" y="277.5" width="2" height="23" fill="#ff0000" stroke="#8b0000" stroke-width="1"/><line x1="4.5" y1="249" x2="4.5" y2="284" stroke="#8b0000" stroke-width="1"/><rect x="3.5" y="251.5" width="2" height="30" fill="#ff0000" stroke="#8b0000" stroke-width="1"/><line x1="8.5" y1="253" x2="8.5" y2="267" stroke="#2f4f4f" stroke-width="1"/><rect x="7.5" y="253.5" width="2" height="9" fill="#90ee90" stroke="#2f4f4f" stroke-width="1"/><line x1="12.5" y1="302" x2="12.5" y2="323" stroke="#2f4f4f" stroke-width="1"/><rect x="11.5" y="311.5" width="2" height="8" fill="#90ee90" stroke="#2f4f4f" stroke-width="1"/><line x1="16.5" y1="306" x2="16.5" y2="321" stroke="#2f4f4f" stroke-width="1"/><rect x="15.5" y="310.5" width="2" height="8" fill="#90ee90" stroke="#2f4f4f" stroke-width="1"/><line x1="20.5" y1="317" x2="20.5" y2="332" stroke="#2f4f4f" stroke-width="1"/><rect x="19.5" y="324.5" width="2" height="2" fill="#90ee90" stroke="#2f4f4f" stroke-width="1"/><line x1="24.5" y1="320" x2="24.5" y2="330" stroke="#8b0000" stroke-width="1"/><rect x="23.5" y="322.5" width="2" height="3" fill="#ff0000" stroke="#8b0000" stroke-width="1"/><line x1="28.5" y1="320" x2="28.5" y2="328" stroke="#8b0000" stroke-width="1"/><rect x="27.5" y="321.5" width="2" height="5" fill="#ff0000" stroke="#8b0000" stroke-width="1"/><line x1="32.5" y1="311" x2="32.5" y2="322" stroke="#8b0000" stroke-width="1"/><rect x="31.5" y="316.5" width="2" height="4" fill="#ff0000" stroke="#8b0000" stroke-width="1"/><line x1="36.5" y1="310" x2="36.5" y2="334" stroke="#2f4f4f" stroke-width="1"/><rect x="35.5" y="316.5" width="2" height="13" fill="#90ee90" stroke="#2f4f4f" stroke-width="1"/><line x1="40.5" y1="317" x2="40.5" y2="328" stroke="#2f4f4f" stroke-width="1"/><rect x="39.5" y="321.5" width="2" height="2" fill="#90ee90" stroke="#2f4f4f" stroke-width="1"/><line x1="44.5" y1="323" x2="44.5" y2="333" stroke="#8b0000" stroke-width="1"/><rect x="43.5" y="325.5" width="2" height="4" fill="#ff0000" stroke="#8b0000" stroke-width="1"/><line x1="48.5" y1="327" x2="48.5" y2="340" stroke="#8b0000" stroke-width="1"/><rect x="47.5" y="330.5" width="2" height="5" fill="#ff0000" stroke="#8b0000" stroke-width="1"/><line x1="52.5" y1="326" x2="52.5" y2="337" stroke="#8b0000" stroke-width="1"/><rect x="51.5" y="327.5" width="2" height="8" fill="#ff0000" stroke="#8b0000" stroke-width="1"/><line x1="56.5" y1="330" x2="56.5" y2="338" stroke="#8b0000" stroke-width="1"/><rect x="55.5" y="331.5" width="2" height="3" fill="#ff0000" stroke="#8b0000" stroke-width="1"/><line x1="60.5" y1="328" x2="60.5" y2="336" stroke="#8b0000" stroke-width="1"/><rect x="59.5" y="329.5" width="2" height="3" fill="#ff0000" stroke="#8b0000" stroke-width="1"/><line x1="64.5" y1="317" x2="64.5" y2="334" stroke="#8b0000" stroke-width="1"/><rect x="63.5" y="318.5" width="2" height="14" fill="#ff0000" stroke="#8b0000" stroke-width="1"/><line x1="68.5" y1="309" x2="68.5" y2="324" stroke="#8b0000" stroke-width="1"/><rect x="67.5" y="315.5" width="2" height="2" fill="#ff0000" stroke="#8b0000" stroke-width="1"/><line x1="72.5" y1="312" x2="72.5" y2="334" stroke="#2f4f4f" stroke-width="1"/><rect x="71.5" y="313.5" width="2" height="19" fill="#90ee90" stroke="#2f4f4f" stroke-width="1"/><line x1="76.5" y1="330" x2="76.5" y2="351" stroke="#2f4f4f" stroke-width="1"/><rect x="75.5" y="331.5" width="2" height="9" fill="#90ee90" stroke="#2f4f4f" stroke-width="1"/><line x1="80.5" y1="344" x2="80.5" y2="356" stroke="#2f4f4f" stroke-width="1"/><rect x="79.5" y="348.5" width="2" height="4" fill="#90ee90" stroke="#2f4f4f" stroke-width="1"/><line x1="84.5" y1="342" x2="84.5" y2="362" stroke="#8b0000" stroke-width="1"/><rect x="83.5" y="349.5" width="2" height="5" fill="#ff0000" stroke="#8b0000" stroke-width="1"/><line x1="88.5" y1="337" x2="88.5" y2="366" stroke="#2f4f4f" stroke-width="1"/><rect x="87.5" y="346.5" width="2" height="18" fill="#90ee90" stroke="#2f4f4f" stroke-width="1"/><line x1="92.5" y1="352" x2="92.5" y2="378" stroke="#8b0000" stroke-width="1"/><rect x="91.5" y="354.5" width="2" height="10" fill="#ff0000" stroke="#8b0000" stroke-width="1"/><line x1="96.5" y1="352" x2="96.5" y2="379" stroke="#2f4f4f" stroke-width="1"/><rect x="95.5" y="353.5" width="2" height="19" fill="#90ee90" stroke="#2f4f4f" stroke-width="1"/><line x1="100.5" y1="364" x2="100.5" y2="389" stroke="#8b0000" stroke-width="1"/><rect x="99.5" y="367.5" width="2" height="16" fill="#ff0000" stroke="#8b0000" stroke-width="1"/><line x1="104.5" y1="345" x2="104.5" y2="373" stroke="#8b0000" stroke-width="1"/><rect x="103.5" y="346.5" width="2" height="25" fill="#ff0000" stroke="#8b0000" stroke-width="1"/><line x1="108.5" y1="344" x2="108.5" y2="365" stroke="#8b0000" stroke-width="1"/><rect x="107.5" y="355.5" width="2" height="7" fill="#ff0000" stroke="#8b0000" stroke-width="1"/><line x1="112.5" y1="359" x2="112.5" y2="379" stroke="#8b0000" stroke-width="1"/><rect x="111.5" y="362.5" width="2" height="4" fill="#ff0000" stroke="#8b0000" stroke-width="1"/><line x1="116.5" y1="376" x2="116.5" y2="397" stroke="#2f4f4f" stroke-width="1"/><rect x="115.5" y="378.5" width="2" height="11" fill="#90ee90" stroke="#2f4f4f" stroke-width="1"/><line x1="120.5" y1="377" x2="120.5" y2="398" stroke="#8b0000" stroke-width="1"/><rect x="119.5" y="389.5" width="2" height="2" fill="#ff0000" stroke="#8b0000" stroke-width="1"/><line x1="124.5" y1="379" x2="124.5" y2="390" stroke="#8b0000" stroke-width="1"/><rect x="123.5" y="383.5" width="2" height="2" fill="#ff0000" stroke="#8b0000" stroke-width="1"/><line x1="128.5" y1="379" x2="128.5" y2="395" stroke="#2f4f4f" stroke-width="1"/><rect x="127.5" y="384.5" width="2" height="7" fill="#90ee90" stroke="#2f4f4f" stroke-width="1"/><line x1="132.5" y1="370" x2="132.5" y2="392" stroke="#8b0000" stroke-width="1"/><rect x="131.5" y="372.5" width="2" height="18" fill="#ff0000" stroke="#8b0000" stroke-width="1"/><line x1="136.5" y1="363" x2="136.5" y2="381" stroke="#8b0000" stroke-width="1"/><rect x="135.5" y="371.5" width="2" height="7" fill="#ff0000" stroke="#8b0000" stroke-width="1"/><line x1="140.5" y1="374" x2="140.5" y2="389" stroke="#2f4f4f" stroke-width="1"/><rect x="139.5" y="376.5" width="2" height="6" fill="#90ee90" stroke="#2f4f4f" stroke-width="1"/><line x1="144.5" y1="369" x2="144.5" y2="383" stroke="#8b0000" stroke-width="1"/><rect x="143.5" y="373.5" width="2" height="8" fill="#ff0000" stroke="#8b0000" stroke-width="1"/><line x1="148.5" y1="365" x2="148.5" y2="384" stroke="#8b0000" stroke-width="1"/><rect x="147.5" y="376.5" width="2" height="3" fill="#ff0000" stroke="#8b0000" stroke-width="1"/><line x1="152.5" y1="365" x2="152.5" y2="386" stroke="#8b0000" stroke-width="1"/><rect x="151.5" y="367.5" width="2" height="17" fill="#ff0000" stroke="#8b0000" stroke-width="1"/><line x1="156.5" y1="359" x2="156.5" y2="370" stroke="#2f4f4f" stroke-width="1"/><rect x="155.5" y="360.5" width="2" height="3" fill="#90ee90" stroke="#2f4f4f" stroke-width="1"/><line x1="160.5" y1="356" x2="160.5" y2="364" stroke="#8b0000" stroke-width="1"/><rect x="159.5" y="358.5" width="2" height="4" fill="#ff0000" stroke="#8b0000" stroke-width="1"/><line x1="164.5" y1="358" x2="164.5" y2="373" stroke="#2f4f4f" stroke-width="1"/><rect x="163.5" y="359.5" width="2" height="12" fill="#90ee90" stroke="#2f4f4f" stroke-width="1"/><line x1="168.5" y1="364" x2="168.5" y2="375" stroke="#8b0000" stroke-width="1"/><rect x="167.5" y="366.5" width="2" height="3" fill="#ff0000" stroke="#8b0000" stroke-width="1"/><line x1="172.5" y1="372" x2="172.5" y2="397" stroke="#2f4f4f" stroke-width="1"/><rect x="171.5" y="373.5" width="2" height="19" fill="#90ee90" stroke="#2f4f4f" stroke-width="1"/><line x1="176.5" y1="395" x2="176.5" y2="417" stroke="#8b0000" stroke-width="1"/><rect x="175.5" y="399.5" width="2" height="8" fill="#ff0000" stroke="#8b0000" stroke-width="1"/><line x1="180.5" y1="380" x2="180.5" y2="405" stroke="#8b0000" stroke-width="1"/><rect x="179.5" y="384.5" width="2" height="17" fill="#ff0000" stroke="#8b0000" stroke-width="1"/><line x1="184.5" y1="380" x2="184.5" y2="398" stroke="#8b0000" stroke-width="1"/><rect x="183.5" y="385.5" width="2" height="11" fill="#ff0000" stroke="#8b0000" stroke-width="1"/><line x1="188.5" y1="399" x2="188.5" y2="412" stroke="#2f4f4f" stroke-width="1"/><rect x="187.5" y="401.5" width="2" height="3" fill="#90ee90" stroke="#2f4f4f" stroke-width="1"/><line x1="192.5" y1="401" x2="192.5" y2="433" stroke="#2f4f4f" stroke-width="1"/><rect x="191.5" y="422.5" width="2" height="9" fill="#90ee90" stroke="#2f4f4f" stroke-width="1"/><line x1="196.5" y1="410" x2="196.5" y2="462" stroke="#8b0000" stroke-width="1"/><rect x="195.5" y="435.5" width="2" height="16" fill="#ff0000" stroke="#8b0000" stroke-width="1"/><line x1="200.5" y1="403" x2="200.5" y2="452" stroke="#2f4f4f" stroke-width="1"/><rect x="199.5" y="413.5" width="2" height="27" fill="#90ee90" stroke="#2f4f4f" stroke-width="1"/><line x1="204.5" y1="362" x2="204.5" y2="450" stroke="#8b0000" stroke-width="1"/><rect x="203.5" y="369.5" width="2" height="79" fill="#ff0000" stroke="#8b0000" stroke-width="1"/><line x1="208.5" y1="382" x2="208.5" y2="416" stroke="#2f4f4f" stroke-width="1"/><rect x="207.5" y="385.5" width="2" height="3" fill="#90ee90" stroke="#2f4f4f" stroke-width="1"/><line x1="212.5" y1="369" x2="212.5" y2="393" stroke="#8b0000" stroke-width="1"/><rect x="211.5" y="373.5" width="2" height="15" fill="#ff0000" stroke="#8b0000" stroke-width="1"/><line x1="216.5" y1="359" x2="216.5" y2="382" stroke="#2f4f4f" stroke-width="1"/><rect x="215.5" y="364.5" width="2" height="13" fill="#90ee90" stroke="#2f4f4f" stroke-width="1"/><line x1="220.5" y1="365" x2="220.5" y2="382" stroke="#2f4f4f" stroke-width="1"/><rect x="219.5" y="373.5" width="2" height="2" fill="#90ee90" stroke="#2f4f4f" stroke-width="1"/><line x1="224.5" y1="385" x2="224.5" y2="415" stroke="#2f4f4f" stroke-width="1"/><rect x="223.5" y="388.5" width="2" height="19" fill="#90ee90" stroke="#2f4f4f" stroke-width="1"/><line x1="228.5" y1="401" x2="228.5" y2="417" stroke="#2f4f4f" stroke-width="1"/><rect x="227.5" y="403.5" width="2" height="12" fill="#90ee90" stroke="#2f4f4f" stroke-width="1"/><line x1="232.5" y1="421" x2="232.5" y2="442" stroke="#2f4f4f" stroke-width="1"/><rect x="231.5" y="425.5" width="2" height="7" fill="#90ee90" stroke="#2f4f4f" stroke-width="1"/><line x1="236.5" y1="414" x2="236.5" y2="431" stroke="#8b0000" stroke-width="1"/><rect x="235.5" y="417.5" width="2" height="8" fill="#ff0000" stroke="#8b0000" stroke-width="1"/><line x1="240.5" y1="389" x2="240.5" y2="405" stroke="#2f4f4f" stroke-width="1"/><rect x="239.5" y="397.5" width="2" height="5" fill="#90ee90" stroke="#2f4f4f" stroke-width="1"/><line x1="244.5" y1="372" x2="244.5" y2="401" stroke="#8b0000" stroke-width="1"/><rect x="243.5" y="375.5" width="2" height="24" fill="#ff0000" stroke="#8b0000" stroke-width="1"/><line x1="248.5" y1="364" x2="248.5" y2="382" stroke="#8b0000" stroke-width="1"/><rect x="247.5" y="365.5" width="2" height="12" fill="#ff0000" stroke="#8b0000" stroke-width="1"/><line x1="252.5" y1="363" x2="252.5" y2="377" stroke="#2f4f4f" stroke-width="1"/><rect x="251" y="366" width="3" height="2" fill="#2f4f4f"/><line x1="256.5" y1="359" x2="256.5" y2="370" stroke="#8b0000" stroke-width="1"/><rect x="255.5" y="361.5" width="2" height="7" fill="#ff0000" stroke="#8b0000" stroke-width="1"/><line x1="260.5" y1="355" x2="260.5" y2="379" stroke="#8b0000" stroke-width="1"/><rect x="259.5" y="364.5" width="2" height="5" fill="#ff0000" stroke="#8b0000" stroke-width="1"/><line x1="264.5" y1="273" x2="264.5" y2="299" stroke="#2f4f4f" stroke-width="1"/><rect x="263.5" y="284.5" width="2" height="13" fill="#90ee90" stroke="#2f4f4f" stroke-width="1"/><line x1="268.5" y1="268" x2="268.5" y2="289" stroke="#8b0000" stroke-width="1"/><rect x="267.5" y="277.5" width="2" height="6" fill="#ff0000" stroke="#8b0000" stroke-width="1"/><line x1="272.5" y1="267" x2="272.5" y2="285" stroke="#8b0000" stroke-width="1"/><rect x="271.5" y="274.5" width="2" height="9" fill="#ff0000" stroke="#8b0000" stroke-width="1"/><line x1="276.5" y1="271" x2="276.5" y2="286" stroke="#8b0000" stroke-width="1"/><rect x="275.5" y="280.5" width="2" height="4" fill="#ff0000" stroke="#8b0000" stroke-width="1"/><line x1="280.5" y1="270" x2="280.5" y2="286" stroke="#2f4f4f" stroke-width="1"/><rect x="279" y="280" width="3" height="2" fill="#2f4f4f"/><line x1="284.5" y1="259" x2="284.5" y2="276" stroke="#8b0000" stroke-width="1"/><rect x="283" y="270" width="3" height="2" fill="#8b0000"/><line x1="288.5" y1="266" x2="288.5" y2="276" stroke="#2f4f4f" stroke-width="1"/><rect x="287.5" y="267.5" width="2" height="2" fill="#90ee90" stroke="#2f4f4f" stroke-width="1"/><line x1="292.5" y1="247" x2="292.5" y2="268" stroke="#8b0000" stroke-width="1"/><rect x="291.5" y="248.5" width="2" height="6" fill="#ff0000" stroke="#8b0000" stroke-width="1"/><line x1="296.5" y1="245" x2="296.5" y2="257" stroke="#8b0000" stroke-width="1"/><rect x="295.5" y="248.5" width="2" height="3" fill="#ff0000" stroke="#8b0000" stroke-width="1"/><line x1="300.5" y1="238" x2="300.5" y2="251" stroke="#8b0000" stroke-width="1"/><rect x="299.5" y="240.5" width="2" height="10" fill="#ff0000" stroke="#8b0000" stroke-width="1"/><line x1="304.5" y1="233" x2="304.5" y2="247" stroke="#8b0000" stroke-width="1"/><rect x="303.5" y="241.5" width="2" height="4" fill="#ff0000" stroke="#8b0000" stroke-width="1"/><line x1="308.5" y1="237" x2="308.5" y2="253" stroke="#8b0000" stroke-width="1"/><rect x="307.5" y="238.5" width="2" height="5" fill="#ff0000" stroke="#8b0000" stroke-width="1"/><line x1="312.5" y1="226" x2="312.5" y2="247" stroke="#8b0000" stroke-width="1"/><rect x="311.5" y="228.5" width="2" height="17" fill="#ff0000" stroke="#8b0000" stroke-width="1"/><line x1="316.5" y1="228" x2="316.5" y2="238" stroke="#8b0000" stroke-width="1"/><rect x="315.5" y="229.5" width="2" height="7" fill="#ff0000" stroke="#8b0000" stroke-width="1"/><line x1="320.5" y1="230" x2="320.5" y2="243" stroke="#2f4f4f" stroke-width="1"/><rect x="319.5" y="237.5" width="2" height="4" fill="#90ee90" stroke="#2f4f4f" stroke-width="1"/><line x1="324.5" y1="225" x2="324.5" y2="241" stroke="#2f4f4f" stroke-width="1"/><rect x="323" y="236" width="3" height="1" fill="#2f4f4f"/><line x1="328.5" y1="238" x2="328.5" y2="249" stroke="#8b0000" stroke-width="1"/><rect x="327" y="245" width="3" height="2" fill="#8b0000"/><line x1="332.5" y1="223" x2="332.5" y2="235" stroke="#8b0000" stroke-width="1"/><rect x="331.5" y="224.5" width="2" height="10" fill="#ff0000" stroke="#8b0000" stroke-width="1"/><line x1="336.5" y1="220" x2="336.5" y2="234" stroke="#2f4f4f" stroke-width="1"/><rect x="335.5" y="223.5" width="2" height="8" fill="#90ee90" stroke="#2f4f4f" stroke-width="1"/><line x1="340.5" y1="222" x2="340.5" y2="235" stroke="#2f4f4f" stroke-width="1"/><rect x="339.5" y="223.5" width="2" height="6" fill="#90ee90" stroke="#2f4f4f" stroke-width="1"/><line x1="344.5" y1="222" x2="344.5" y2="236" stroke="#2f4f4f" stroke-width="1"/><rect x="343" y="226" width="3" height="2" fill="#2f4f4f"/><line x1="348.5" y1="221" x2="348.5" y2="233" stroke="#8b0000" stroke-width="1"/><rect x="347.5" y="222.5" width="2" height="9" fill="#ff0000" stroke="#8b0000" stroke-width="1"/><line x1="352.5" y1="217" x2="352.5" y2="225" stroke="#8b0000" stroke-width="1"/><rect x="351.5" y="219.5" width="2" height="2" fill="#ff0000" stroke="#8b0000" stroke-width="1"/><line x1="356.5" y1="214" x2="356.5" y2="220" stroke="#2f4f4f" stroke-width="1"/><rect x="355" y="217" width="3" height="2" fill="#2f4f4f"/><line x1="360.5" y1="206" x2="360.5" y2="219" stroke="#8b0000" stroke-width="1"/><rect x="359.5" y="210.5" width="2" height="7" fill="#ff0000" stroke="#8b0000" stroke-width="1"/><line x1="364.5" y1="198" x2="364.5" y2="208" stroke="#2f4f4f" stroke-width="1"/><rect x="363" y="204" width="3" height="2" fill="#2f4f4f"/><line x1="368.5" y1="198" x2="368.5" y2="209" stroke="#8b0000" stroke-width="1"/><rect x="367.5" y="199.5" width="2" height="6" fill="#ff0000" stroke="#8b0000" stroke-width="1"/><line x1="372.5" y1="199" x2="372.5" y2="212" stroke="#2f4f4f" stroke-width="1"/><rect x="371.5" y="202.5" width="2" height="2" fill="#90ee90" stroke="#2f4f4f" stroke-width="1"/><line x1="376.5" y1="194" x2="376.5" y2="207" stroke="#8b0000" stroke-width="1"/><rect x="375.5" y="200.5" width="2" height="6" fill="#ff0000" stroke="#8b0000" stroke-width="1"/><line x1="380.5" y1="184" x2="380.5" y2="200" stroke="#8b0000" stroke-width="1"/><rect x="379.5" y="186.5" width="2" height="9" fill="#ff0000" stroke="#8b0000" stroke-width="1"/><line x1="384.5" y1="187" x2="384.5" y2="201" stroke="#2f4f4f" stroke-width="1"/><rect x="383" y="194" width="3" height="2" fill="#2f4f4f"/><line x1="388.5" y1="184" x2="388.5" y2="198" stroke="#8b0000" stroke-width="1"/><rect x="387.5" y="187.5" width="2" height="8" fill="#ff0000" stroke="#8b0000" stroke-width="1"/><line x1="392.5" y1="187" x2="392.5" y2="198" stroke="#8b0000" stroke-width="1"/><rect x="391.5" y="189.5" width="2" height="7" fill="#ff0000" stroke="#8b0000" stroke-width="1"/><line x1="396.5" y1="183" x2="396.5" y2="195" stroke="#8b0000" stroke-width="1"/><rect x="395.5" y="184.5" width="2" height="5" fill="#ff0000" stroke="#8b0000" stroke-width="1"/><line x1="400.5" y1="178" x2="400.5" y2="193" stroke="#2f4f4f" stroke-width="1"/><rect x="399.5" y="181.5" width="2" height="10" fill="#90ee90" stroke="#2f4f4f" stroke-width="1"/><line x1="404.5" y1="169" x2="404.5" y2="201" stroke="#8b0000" stroke-width="1"/><rect x="403.5" y="172.5" width="2" height="17" fill="#ff0000" stroke="#8b0000" stroke-width="1"/><line x1="408.5" y1="160" x2="408.5" y2="172" stroke="#8b0000" stroke-width="1"/><rect x="407.5" y="164.5" width="2" height="2" fill="#ff0000" stroke="#8b0000" stroke-width="1"/><line x1="412.5" y1="155" x2="412.5" y2="166" stroke="#8b0000" stroke-width="1"/><rect x="411.5" y="159.5" width="2" height="2" fill="#ff0000" stroke="#8b0000" stroke-width="1"/><line x1="416.5" y1="148" x2="416.5" y2="160" stroke="#8b0000" stroke-width="1"/><rect x="415.5" y="149.5" width="2" height="9" fill="#ff0000" stroke="#8b0000" stroke-width="1"/><line x1="420.5" y1="146" x2="420.5" y2="158" stroke="#2f4f4f" stroke-width="1"/><rect x="419.5" y="149.5" width="2" height="3" fill="#90ee90" stroke="#2f4f4f" stroke-width="1"/><line x1="424.5" y1="143" x2="424.5" y2="154" stroke="#8b0000" stroke-width="1"/><rect x="423.5" y="149.5" width="2" height="2" fill="#ff0000" stroke="#8b0000" stroke-width="1"/><line x1="428.5" y1="148" x2="428.5" y2="163" stroke="#2f4f4f" stroke-width="1"/><rect x="427.5" y="151.5" width="2" height="9" fill="#90ee90" stroke="#2f4f4f" stroke-width="1"/><line x1="432.5" y1="157" x2="432.5" y2="168" stroke="#8b0000" stroke-width="1"/><rect x="431.5" y="162.5" width="2" height="4" fill="#ff0000" stroke="#8b0000" stroke-width="1"/><line x1="436.5" y1="143" x2="436.5" y2="162" stroke="#8b0000" stroke-width="1"/><rect x="435.5" y="147.5" width="2" height="13" fill="#ff0000" stroke="#8b0000" stroke-width="1"/><line x1="440.5" y1="146" x2="440.5" y2="154" stroke="#8b0000" stroke-width="1"/><rect x="439" y="148" width="3" height="2" fill="#8b0000"/><line x1="444.5" y1="147" x2="444.5" y2="157" stroke="#2f4f4f" stroke-width="1"/><rect x="443" y="150" width="3" height="2" fill="#2f4f4f"/><line x1="448.5" y1="130" x2="448.5" y2="145" stroke="#8b0000" stroke-width="1"/><rect x="447.5" y="136.5" width="2" height="8" fill="#ff0000" stroke="#8b0000" stroke-width="1"/><line x1="452.5" y1="135" x2="452.5" y2="149" stroke="#2f4f4f" stroke-width="1"/><rect x="451.5" y="139.5" width="2" height="2" fill="#90ee90" stroke="#2f4f4f" stroke-width="1"/><line x1="456.5" y1="133" x2="456.5" y2="149" stroke="#8b0000" stroke-width="1"/><rect x="455.5" y="137.5" width="2" height="11" fill="#ff0000" stroke="#8b0000" stroke-width="1"/><line x1="460.5" y1="135" x2="460.5" y2="147" stroke="#8b0000" stroke-width="1"/><rect x="459.5" y="136.5" width="2" height="10" fill="#ff0000" stroke="#8b0000" stroke-width="1"/><line x1="464.5" y1="128" x2="464.5" y2="142" stroke="#8b0000" stroke-width="1"/><rect x="463.5" y="133.5" width="2" height="4" fill="#ff0000" stroke="#8b0000" stroke-width="1"/><line x1="468.5" y1="130" x2="468.5" y2="142" stroke="#2f4f4f" stroke-width="1"/><rect x="467" y="134" width="3" height="2" fill="#2f4f4f"/><line x1="472.5" y1="117" x2="472.5" y2="137" stroke="#8b0000" stroke-width="1"/><rect x="471.5" y="119.5" width="2" height="15" fill="#ff0000" stroke="#8b0000" stroke-width="1"/><line x1="476.5" y1="111" x2="476.5" y2="127" stroke="#2f4f4f" stroke-width="1"/><rect x="475.5" y="119.5" width="2" height="4" fill="#90ee90" stroke="#2f4f4f" stroke-width="1"/><line x1="480.5" y1="119" x2="480.5" y2="133" stroke="#8b0000" stroke-width="1"/><rect x="479.5" y="124.5" width="2" height="2" fill="#ff0000" stroke="#8b0000" stroke-width="1"/><line x1="484.5" y1="121" x2="484.5" y2="136" stroke="#2f4f4f" stroke-width="1"/><rect x="483.5" y="124.5" width="2" height="8" fill="#90ee90" stroke="#2f4f4f" stroke-width="1"/><line x1="488.5" y1="126" x2="488.5" y2="142" stroke="#8b0000" stroke-width="1"/><rect x="487.5" y="128.5" width="2" height="4" fill="#ff0000" stroke="#8b0000" stroke-width="1"/><line x1="492.5" y1="118" x2="492.5" y2="151" stroke="#8b0000" stroke-width="1"/><rect x="491.5" y="122.5" width="2" height="8" fill="#ff0000" stroke="#8b0000" stroke-width="1"/><line x1="496.5" y1="107" x2="496.5" y2="124" stroke="#8b0000" stroke-width="1"/><rect x="495.5" y="115.5" width="2" height="6" fill="#ff0000" stroke="#8b0000" stroke-width="1"/><line x1="500.5" y1="110" x2="500.5" y2="124" stroke="#2f4f4f" stroke-width="1"/><rect x="499.5" y="112.5" width="2" height="6" fill="#90ee90" stroke="#2f4f4f" stroke-width="1"/><line x1="504.5" y1="108" x2="504.5" y2="121" stroke="#8b0000" stroke-width="1"/><rect x="503.5" y="116.5" width="2" height="3" fill="#ff0000" stroke="#8b0000" stroke-width="1"/><line x1="508.5" y1="31" x2="508.5" y2="125" stroke="#8b0000" stroke-width="1"/><rect x="507.5" y="39.5" width="2" height="78" fill="#ff0000" stroke="#8b0000" stroke-width="1"/><line x1="512.5" y1="17" x2="512.5" y2="79" stroke="#2f4f4f" stroke-width="1"/><rect x="511.5" y="39.5" width="2" height="31" fill="#90ee90" stroke="#2f4f4f" stroke-width="1"/><line x1="516.5" y1="67" x2="516.5" y2="73" stroke="#8b0000" stroke-width="1"/><rect x="515.5" y="68.5" width="2" height="3" fill="#ff0000" stroke="#8b0000" stroke-width="1"/><line x1="520.5" y1="65" x2="520.5" y2="90" stroke="#8b0000" stroke-width="1"/><rect x="519.5" y="67.5" width="2" height="22" fill="#ff0000" stroke="#8b0000" stroke-width="1"/><line x1="524.5" y1="64" x2="524.5" y2="89" stroke="#2f4f4f" stroke-width="1"/><rect x="523.5" y="67.5" width="2" height="20" fill="#90ee90" stroke="#2f4f4f" stroke-width="1"/><line x1="528.5" y1="76" x2="528.5" y2="95" stroke="#2f4f4f" stroke-width="1"/><rect x="527.5" y="86.5" width="2" height="4" fill="#90ee90" stroke="#2f4f4f" stroke-width="1"/><line x1="532.5" y1="87" x2="532.5" y2="110" stroke="#2f4f4f" stroke-width="1"/><rect x="531.5" y="91.5" width="2" height="9" fill="#90ee90" stroke="#2f4f4f" stroke-width="1"/><line x1="536.5" y1="94" x2="536.5" y2="106" stroke="#8b0000" stroke-width="1"/><rect x="535.5" y="97.5" width="2" height="3" fill="#ff0000" stroke="#8b0000" stroke-width="1"/><line x1="540.5" y1="89" x2="540.5" y2="105" stroke="#2f4f4f" stroke-width="1"/><rect x="539.5" y="96.5" width="2" height="2" fill="#90ee90" stroke="#2f4f4f" stroke-width="1"/><line x1="544.5" y1="80" x2="544.5" y2="100" stroke="#8b0000" stroke-width="1"/><rect x="543.5" y="83.5" width="2" height="15" fill="#ff0000" stroke="#8b0000" stroke-width="1"/><line x1="548.5" y1="78" x2="548.5" y2="106" stroke="#2f4f4f" stroke-width="1"/><rect x="547.5" y="84.5" width="2" height="17" fill="#90ee90" stroke="#2f4f4f" stroke-width="1"/><line x1="552.5" y1="91" x2="552.5" y2="103" stroke="#8b0000" stroke-width="1"/><rect x="551.5" y="96.5" width="2" height="4" fill="#ff0000" stroke="#8b0000" stroke-width="1"/><line x1="556.5" y1="91" x2="556.5" y2="106" stroke="#2f4f4f" stroke-width="1"/><rect x="555.5" y="96.5" width="2" height="7" fill="#90ee90" stroke="#2f4f4f" stroke-width="1"/><line x1="560.5" y1="97" x2="560.5" y2="116" stroke="#2f4f4f" stroke-width="1"/><rect x="559.5" y="101.5" width="2" height="7" fill="#90ee90" stroke="#2f4f4f" stroke-width="1"/><line x1="564.5" y1="107" x2="564.5" y2="128" stroke="#2f4f4f" stroke-width="1"/><rect x="563.5" y="108.5" width="2" height="15" fill="#90ee90" stroke="#2f4f4f" stroke-width="1"/><line x1="568.5" y1="121" x2="568.5" y2="137" stroke="#2f4f4f" stroke-width="1"/><rect x="567.5" y="123.5" width="2" height="9" fill="#90ee90" stroke="#2f4f4f" stroke-width="1"/><line x1="572.5" y1="129" x2="572.5" y2="139" stroke="#2f4f4f" stroke-width="1"/><rect x="571.5" y="132.5" width="2" height="3" fill="#90ee90" stroke="#2f4f4f" stroke-width="1"/><line x1="576.5" y1="122" x2="576.5" y2="140" stroke="#8b0000" stroke-width="1"/><rect x="575.5" y="128.5" width="2" height="8" fill="#ff0000" stroke="#8b0000" stroke-width="1"/><line x1="580.5" y1="128" x2="580.5" y2="138" stroke="#2f4f4f" stroke-width="1"/><rect x="579.5" y="132.5" width="2" height="4" fill="#90ee90" stroke="#2f4f4f" stroke-width="1"/><line x1="584.5" y1="134" x2="584.5" y2="148" stroke="#2f4f4f" stroke-width="1"/><rect x="583.5" y="135.5" width="2" height="3" fill="#90ee90" stroke="#2f4f4f" stroke-width="1"/><line x1="588.5" y1="129" x2="588.5" y2="145" stroke="#8b0000" stroke-width="1"/><rect x="587.5" y="130.5" width="2" height="8" fill="#ff0000" stroke="#8b0000" stroke-width="1"/><line x1="592.5" y1="121" x2="592.5" y2="135" stroke="#8b0000" stroke-width="1"/><rect x="591.5" y="123.5" width="2" height="8" fill="#ff0000" stroke="#8b0000" stroke-width="1"/><line x1="596.5" y1="123" x2="596.5" y2="135" stroke="#2f4f4f" stroke-width="1"/><rect x="595.5" y="124.5" width="2" height="5" fill="#90ee90" stroke="#2f4f4f" stroke-width="1"/><line x1="600.5" y1="131" x2="600.5" y2="152" stroke="#2f4f4f" stroke-width="1"/><rect x="599.5" y="134.5" width="2" height="6" fill="#90ee90" stroke="#2f4f4f" stroke-width="1"/><line x1="604.5" y1="133" x2="604.5" y2="142" stroke="#8b0000" stroke-width="1"/><rect x="603.5" y="135.5" width="2" height="5" fill="#ff0000" stroke="#8b0000" stroke-width="1"/><line x1="608.5" y1="126" x2="608.5" y2="139" stroke="#8b0000" stroke-width="1"/><rect x="607.5" y="127.5" width="2" height="9" fill="#ff0000" stroke="#8b0000" stroke-width="1"/><line x1="612.5" y1="118" x2="612.5" y2="160" stroke="#2f4f4f" stroke-width="1"/><rect x="611.5" y="127.5" width="2" height="27" fill="#90ee90" stroke="#2f4f4f" stroke-width="1"/><line x1="616.5" y1="141" x2="616.5" y2="158" stroke="#8b0000" stroke-width="1"/><rect x="615.5" y="148.5" width="2" height="8" fill="#ff0000" stroke="#8b0000" stroke-width="1"/><line x1="620.5" y1="139" x2="620.5" y2="151" stroke="#8b0000" stroke-width="1"/><rect x="619.5" y="142.5" width="2" height="7" fill="#ff0000" stroke="#8b0000" stroke-width="1"/><line x1="624.5" y1="128" x2="624.5" y2="151" stroke="#2f4f4f" stroke-width="1"/><rect x="623" y="142" width="3" height="2" fill="#2f4f4f"/><line x1="628.5" y1="138" x2="628.5" y2="149" stroke="#8b0000" stroke-width="1"/><rect x="627.5" y="141.5" width="2" height="4" fill="#ff0000" stroke="#8b0000" stroke-width="1"/><line x1="632.5" y1="114" x2="632.5" y2="143" stroke="#8b0000" stroke-width="1"/><rect x="631.5" y="123.5" width="2" height="18" fill="#ff0000" stroke="#8b0000" stroke-width="1"/><line x1="636.5" y1="112" x2="636.5" y2="134" stroke="#8b0000" stroke-width="1"/><rect x="635.5" y="114.5" width="2" height="8" fill="#ff0000" stroke="#8b0000" stroke-width="1"/><line x1="640.5" y1="107" x2="640.5" y2="128" stroke="#2f4f4f" stroke-width="1"/><rect x="639.5" y="114.5" width="2" height="10" fill="#90ee90" stroke="#2f4f4f" stroke-width="1"/><line x1="644.5" y1="121" x2="644.5" y2="132" stroke="#2f4f4f" stroke-width="1"/><rect x="643" y="124" width="3" height="2" fill="#2f4f4f"/><line x1="648.5" y1="115" x2="648.5" y2="128" stroke="#2f4f4f" stroke-width="1"/><rect x="647" y="125" width="3" height="2" fill="#2f4f4f"/><line x1="652.5" y1="104" x2="652.5" y2="129" stroke="#8b0000" stroke-width="1"/><rect x="651.5" y="108.5" width="2" height="18" fill="#ff0000" stroke="#8b0000" stroke-width="1"/><line x1="656.5" y1="107" x2="656.5" y2="119" stroke="#8b0000" stroke-width="1"/><rect x="655.5" y="111.5" width="2" height="4" fill="#ff0000" stroke="#8b0000" stroke-width="1"/><line x1="660.5" y1="110" x2="660.5" y2="130" stroke="#2f4f4f" stroke-width="1"/><rect x="659.5" y="112.5" width="2" height="9" fill="#90ee90" stroke="#2f4f4f" stroke-width="1"/><line x1="664.5" y1="120" x2="664.5" y2="130" stroke="#8b0000" stroke-width="1"/><rect x="663" y="124" width="3" height="2" fill="#8b0000"/><line x1="668.5" y1="121" x2="668.5" y2="134" stroke="#2f4f4f" stroke-width="1"/><rect x="667.5" y="124.5" width="2" height="7" fill="#90ee90" stroke="#2f4f4f" stroke-width="1"/><line x1="672.5" y1="115" x2="672.5" y2="134" stroke="#8b0000" stroke-width="1"/><rect x="671.5" y="121.5" width="2" height="11" fill="#ff0000" stroke="#8b0000" stroke-width="1"/><line x1="676.5" y1="109" x2="676.5" y2="126" stroke="#8b0000" stroke-width="1"/><rect x="675.5" y="115.5" width="2" height="5" fill="#ff0000" stroke="#8b0000" stroke-width="1"/><line x1="680.5" y1="106" x2="680.5" y2="126" stroke="#8b0000" stroke-width="1"/><rect x="679.5" y="112.5" width="2" height="3" fill="#ff0000" stroke="#8b0000" stroke-width="1"/><line x1="684.5" y1="102" x2="684.5" y2="125" stroke="#8b0000" stroke-width="1"/><rect x="683.5" y="105.5" width="2" height="8" fill="#ff0000" stroke="#8b0000" stroke-width="1"/><line x1="688.5" y1="99" x2="688.5" y2="123" stroke="#2f4f4f" stroke-width="1"/><rect x="687.5" y="105.5" width="2" height="7" fill="#90ee90" stroke="#2f4f4f" stroke-width="1"/><line x1="692.5" y1="102" x2="692.5" y2="118" stroke="#8b0000" stroke-width="1"/><rect x="691.5" y="110.5" width="2" height="2" fill="#ff0000" stroke="#8b0000" stroke-width="1"/><line x1="696.5" y1="80" x2="696.5" y2="111" stroke="#8b0000" stroke-width="1"/><rect x="695.5" y="86.5" width="2" height="24" fill="#ff0000" stroke="#8b0000" stroke-width="1"/><line x1="700.5" y1="84" x2="700.5" y2="101" stroke="#2f4f4f" stroke-width="1"/><rect x="699.5" y="86.5" width="2" height="9" fill="#90ee90" stroke="#2f4f4f" stroke-width="1"/><line x1="704.5" y1="88" x2="704.5" y2="98" stroke="#8b0000" stroke-width="1"/><rect x="703.5" y="93.5" width="2" height="2" fill="#ff0000" stroke="#8b0000" stroke-width="1"/><line x1="708.5" y1="90" x2="708.5" y2="109" stroke="#2f4f4f" stroke-width="1"/><rect x="707.5" y="93.5" width="2" height="6" fill="#90ee90" stroke="#2f4f4f" stroke-width="1"/><line x1="712.5" y1="95" x2="712.5" y2="134" stroke="#2f4f4f" stroke-width="1"/><rect x="711.5" y="99.5" width="2" height="28" fill="#90ee90" stroke="#2f4f4f" stroke-width="1"/><line x1="716.5" y1="104" x2="716.5" y2="121" stroke="#2f4f4f" stroke-width="1"/><rect x="715.5" y="111.5" width="2" height="4" fill="#90ee90" stroke="#2f4f4f" stroke-width="1"/><line x1="720.5" y1="112" x2="720.5" y2="132" stroke="#2f4f4f" stroke-width="1"/><rect x="719" y="115" width="3" height="2" fill="#2f4f4f"/><line x1="724.5" y1="108" x2="724.5" y2="124" stroke="#2f4f4f" stroke-width="1"/><rect x="723" y="117" width="3" height="2" fill="#2f4f4f"/><line x1="728.5" y1="110" x2="728.5" y2="127" stroke="#2f4f4f" stroke-width="1"/><rect x="727.5" y="118.5" width="2" height="3" fill="#90ee90" stroke="#2f4f4f" stroke-width="1"/><line x1="732.5" y1="112" x2="732.5" y2="138" stroke="#8b0000" stroke-width="1"/><rect x="731.5" y="116.5" width="2" height="5" fill="#ff0000" stroke="#8b0000" stroke-width="1"/><line x1="736.5" y1="105" x2="736.5" y2="117" stroke="#8b0000" stroke-width="1"/><rect x="735.5" y="110.5" width="2" height="5" fill="#ff0000" stroke="#8b0000" stroke-width="1"/><line x1="740.5" y1="107" x2="740.5" y2="118" stroke="#2f4f4f" stroke-width="1"/><rect x="739.5" y="112.5" width="2" height="2" fill="#90ee90" stroke="#2f4f4f" stroke-width="1"/><line x1="744.5" y1="93" x2="744.5" y2="112" stroke="#8b0000" stroke-width="1"/><rect x="743.5" y="101.5" width="2" height="9" fill="#ff0000" stroke="#8b0000" stroke-width="1"/><line x1="748.5" y1="95" x2="748.5" y2="108" stroke="#8b0000" stroke-width="1"/><rect x="747.5" y="100.5" width="2" height="3" fill="#ff0000" stroke="#8b0000" stroke-width="1"/><line x1="752.5" y1="92" x2="752.5" y2="104" stroke="#8b0000" stroke-width="1"/><rect x="751.5" y="94.5" width="2" height="8" fill="#ff0000" stroke="#8b0000" stroke-width="1"/><line x1="756.5" y1="73" x2="756.5" y2="89" stroke="#8b0000" stroke-width="1"/><rect x="755.5" y="77.5" width="2" height="8" fill="#ff0000" stroke="#8b0000" stroke-width="1"/><line x1="760.5" y1="26" x2="760.5" y2="80" stroke="#8b0000" stroke-width="1"/><rect x="759.5" y="56.5" width="2" height="22" fill="#ff0000" stroke="#8b0000" stroke-width="1"/><line x1="764.5" y1="49" x2="764.5" y2="117" stroke="#2f4f4f" stroke-width="1"/><rect x="763.5" y="56.5" width="2" height="36" fill="#90ee90" stroke="#2f4f4f" stroke-width="1"/><line x1="768.5" y1="65" x2="768.5" y2="115" stroke="#8b0000" stroke-width="1"/><rect x="767.5" y="90.5" width="2" height="3" fill="#ff0000" stroke="#8b0000" stroke-width="1"/><line x1="772.5" y1="82" x2="772.5" y2="115" stroke="#2f4f4f" stroke-width="1"/><rect x="771.5" y="89.5" width="2" height="19" fill="#90ee90" stroke="#2f4f4f" stroke-width="1"/><line x1="776.5" y1="93" x2="776.5" y2="119" stroke="#2f4f4f" stroke-width="1"/><rect x="775.5" y="107.5" width="2" height="2" fill="#90ee90" stroke="#2f4f4f" stroke-width="1"/><line x1="780.5" y1="108" x2="780.5" y2="131" stroke="#2f4f4f" stroke-width="1"/><rect x="779.5" y="109.5" width="2" height="5" fill="#90ee90" stroke="#2f4f4f" stroke-width="1"/><line x1="784.5" y1="113" x2="784.5" y2="147" stroke="#2f4f4f" stroke-width="1"/><rect x="783.5" y="114.5" width="2" height="16" fill="#90ee90" stroke="#2f4f4f" stroke-width="1"/><line x1="788.5" y1="128" x2="788.5" y2="153" stroke="#2f4f4f" stroke-width="1"/><rect x="787.5" y="129.5" width="2" height="19" fill="#90ee90" stroke="#2f4f4f" stroke-width="1"/><line x1="792.5" y1="145" x2="792.5" y2="161" stroke="#2f4f4f" stroke-width="1"/><rect x="791.5" y="147.5" width="2" height="2" fill="#90ee90" stroke="#2f4f4f" stroke-width="1"/><line x1="796.5" y1="130" x2="796.5" y2="147" stroke="#8b0000" stroke-width="1"/><rect x="795.5" y="131.5" width="2" height="14" fill="#ff0000" stroke="#8b0000" stroke-width="1"/><line x1="800.5" y1="129" x2="800.5" y2="144" stroke="#8b0000" stroke-width="1"/><rect x="799.5" y="134.5" width="2" height="2" fill="#ff0000" stroke="#8b0000" stroke-width="1"/><line x1="804.5" y1="119" x2="804.5" y2="146" stroke="#8b0000" stroke-width="1"/><rect x="803.5" y="121.5" width="2" height="6" fill="#ff0000" stroke="#8b0000" stroke-width="1"/><line x1="808.5" y1="116" x2="808.5" y2="139" stroke="#2f4f4f" stroke-width="1"/><rect x="807.5" y="122.5" width="2" height="15" fill="#90ee90" stroke="#2f4f4f" stroke-width="1"/><line x1="812.5" y1="121" x2="812.5" y2="147" stroke="#8b0000" stroke-width="1"/><rect x="811.5" y="123.5" width="2" height="15" fill="#ff0000" stroke="#8b0000" stroke-width="1"/><line x1="816.5" y1="118" x2="816.5" y2="133" stroke="#2f4f4f" stroke-width="1"/><rect x="815.5" y="123.5" width="2" height="4" fill="#90ee90" stroke="#2f4f4f" stroke-width="1"/><line x1="820.5" y1="126" x2="820.5" y2="165" stroke="#2f4f4f" stroke-width="1"/><rect x="819.5" y="128.5" width="2" height="32" fill="#90ee90" stroke="#2f4f4f" stroke-width="1"/><line x1="824.5" y1="155" x2="824.5" y2="173" stroke="#2f4f4f" stroke-width="1"/><rect x="823.5" y="160.5" width="2" height="5" fill="#90ee90" stroke="#2f4f4f" stroke-width="1"/><line x1="828.5" y1="156" x2="828.5" y2="184" stroke="#2f4f4f" stroke-width="1"/><rect x="827.5" y="165.5" width="2" height="17" fill="#90ee90" stroke="#2f4f4f" stroke-width="1"/><line x1="832.5" y1="185" x2="832.5" y2="192" stroke="#2f4f4f" stroke-width="1"/><rect x="831.5" y="188.5" width="2" height="2" fill="#90ee90" stroke="#2f4f4f" stroke-width="1"/><line x1="836.5" y1="186" x2="836.5" y2="200" stroke="#2f4f4f" stroke-width="1"/><rect x="835.5" y="190.5" width="2" height="6" fill="#90ee90" stroke="#2f4f4f" stroke-width="1"/><line x1="840.5" y1="188" x2="840.5" y2="216" stroke="#8b0000" stroke-width="1"/><rect x="839.5" y="191.5" width="2" height="5" fill="#ff0000" stroke="#8b0000" stroke-width="1"/><line x1="844.5" y1="168" x2="844.5" y2="193" stroke="#8b0000" stroke-width="1"/><rect x="843.5" y="172.5" width="2" height="19" fill="#ff0000" stroke="#8b0000" stroke-width="1"/><line x1="848.5" y1="159" x2="848.5" y2="172" stroke="#8b0000" stroke-width="1"/><rect x="847.5" y="160.5" width="2" height="10" fill="#ff0000" stroke="#8b0000" stroke-width="1"/><line x1="852.5" y1="162" x2="852.5" y2="175" stroke="#2f4f4f" stroke-width="1"/><rect x="851" y="169" width="3" height="2" fill="#2f4f4f"/><line x1="856.5" y1="158" x2="856.5" y2="175" stroke="#8b0000" stroke-width="1"/><rect x="855.5" y="164.5" width="2" height="6" fill="#ff0000" stroke="#8b0000" stroke-width="1"/><line x1="860.5" y1="163" x2="860.5" y2="195" stroke="#2f4f4f" stroke-width="1"/><rect x="859.5" y="164.5" width="2" height="23" fill="#90ee90" stroke="#2f4f4f" stroke-width="1"/><line x1="864.5" y1="180" x2="864.5" y2="193" stroke="#8b0000" stroke-width="1"/><rect x="863.5" y="183.5" width="2" height="5" fill="#ff0000" stroke="#8b0000" stroke-width="1"/><line x1="868.5" y1="178" x2="868.5" y2="191" stroke="#8b0000" stroke-width="1"/><rect x="867.5" y="180.5" width="2" height="3" fill="#ff0000" stroke="#8b0000" stroke-width="1"/><line x1="872.5" y1="159" x2="872.5" y2="181" stroke="#8b0000" stroke-width="1"/><rect x="871.5" y="165.5" width="2" height="14" fill="#ff0000" stroke="#8b0000" stroke-width="1"/><line x1="876.5" y1="160" x2="876.5" y2="168" stroke="#8b0000" stroke-width="1"/><rect x="875.5" y="161.5" width="2" height="4" fill="#ff0000" stroke="#8b0000" stroke-width="1"/><line x1="880.5" y1="158" x2="880.5" y2="196" stroke="#2f4f4f" stroke-width="1"/><rect x="879.5" y="161.5" width="2" height="28" fill="#90ee90" stroke="#2f4f4f" stroke-width="1"/><line x1="884.5" y1="173" x2="884.5" y2="204" stroke="#8b0000" stroke-width="1"/><rect x="883.5" y="176.5" width="2" height="13" fill="#ff0000" stroke="#8b0000" stroke-width="1"/><line x1="888.5" y1="172" x2="888.5" y2="191" stroke="#2f4f4f" stroke-width="1"/><rect x="887.5" y="176.5" width="2" height="13" fill="#90ee90" stroke="#2f4f4f" stroke-width="1"/><line x1="892.5" y1="184" x2="892.5" y2="202" stroke="#2f4f4f" stroke-width="1"/><rect x="891.5" y="190.5" width="2" height="6" fill="#90ee90" stroke="#2f4f4f" stroke-width="1"/><line x1="896.5" y1="194" x2="896.5" y2="205" stroke="#8b0000" stroke-width="1"/><rect x="895" y="195" width="3" height="2" fill="#8b0000"/><line x1="900.5" y1="190" x2="900.5" y2="198" stroke="#8b0000" stroke-width="1"/><rect x="899.5" y="192.5" width="2" height="3" fill="#ff0000" stroke="#8b0000" stroke-width="1"/><line x1="904.5" y1="165" x2="904.5" y2="200" stroke="#8b0000" stroke-width="1"/><rect x="903.5" y="178.5" width="2" height="4" fill="#ff0000" stroke="#8b0000" stroke-width="1"/><line x1="908.5" y1="167" x2="908.5" y2="180" stroke="#8b0000" stroke-width="1"/><rect x="907.5" y="175.5" width="2" height="3" fill="#ff0000" stroke="#8b0000" stroke-width="1"/><line x1="912.5" y1="167" x2="912.5" y2="175" stroke="#2f4f4f" stroke-width="1"/><rect x="911" y="171" width="3" height="2" fill="#2f4f4f"/><line x1="916.5" y1="168" x2="916.5" y2="173" stroke="#8b0000" stroke-width="1"/><rect x="915" y="170" width="3" height="2" fill="#8b0000"/><line x1="920.5" y1="166" x2="920.5" y2="173" stroke="#8b0000" stroke-width="1"/><rect x="919.5" y="168.5" width="2" height="3" fill="#ff0000" stroke="#8b0000" stroke-width="1"/><line x1="924.5" y1="167" x2="924.5" y2="172" stroke="#8b0000" stroke-width="1"/><rect x="923.5" y="168.5" width="2" height="2" fill="#ff0000" stroke="#8b0000" stroke-width="1"/><line x1="928.5" y1="166" x2="928.5" y2="172" stroke="#8b0000" stroke-width="1"/><rect x="927.5" y="167.5" width="2" height="3" fill="#ff0000" stroke="#8b0000" stroke-width="1"/><line x1="932.5" y1="165" x2="932.5" y2="172" stroke="#8b0000" stroke-width="1"/><rect x="931.5" y="167.5" width="2" height="3" fill="#ff0000" stroke="#8b0000" stroke-width="1"/><line x1="936.5" y1="166" x2="936.5" y2="180" stroke="#2f4f4f" stroke-width="1"/><rect x="935.5" y="168.5" width="2" height="10" fill="#90ee90" stroke="#2f4f4f" stroke-width="1"/><line x1="940.5" y1="170" x2="940.5" y2="207" stroke="#2f4f4f" stroke-width="1"/><rect x="939.5" y="173.5" width="2" height="28" fill="#90ee90" stroke="#2f4f4f" stroke-width="1"/><line x1="944.5" y1="193" x2="944.5" y2="207" stroke="#8b0000" stroke-width="1"/><rect x="943.5" y="198.5" width="2" height="2" fill="#ff0000" stroke="#8b0000" stroke-width="1"/><line x1="948.5" y1="185" x2="948.5" y2="207" stroke="#8b0000" stroke-width="1"/><rect x="947.5" y="192.5" width="2" height="8" fill="#ff0000" stroke="#8b0000" stroke-width="1"/><line x1="952.5" y1="165" x2="952.5" y2="193" stroke="#8b0000" stroke-width="1"/><rect x="951.5" y="178.5" width="2" height="9" fill="#ff0000" stroke="#8b0000" stroke-width="1"/><line x1="956.5" y1="176" x2="956.5" y2="194" stroke="#2f4f4f" stroke-width="1"/><rect x="955.5" y="178.5" width="2" height="10" fill="#90ee90" stroke="#2f4f4f" stroke-width="1"/><line x1="960.5" y1="183" x2="960.5" y2="201" stroke="#8b0000" stroke-width="1"/><rect x="959.5" y="186.5" width="2" height="2" fill="#ff0000" stroke="#8b0000" stroke-width="1"/><line x1="964.5" y1="182" x2="964.5" y2="200" stroke="#8b0000" stroke-width="1"/><rect x="963.5" y="191.5" width="2" height="6" fill="#ff0000" stroke="#8b0000" stroke-width="1"/><line x1="968.5" y1="190" x2="968.5" y2="214" stroke="#2f4f4f" stroke-width="1"/><rect x="967.5" y="191.5" width="2" height="14" fill="#90ee90" stroke="#2f4f4f" stroke-width="1"/><line x1="972.5" y1="203" x2="972.5" y2="232" stroke="#2f4f4f" stroke-width="1"/><rect x="971.5" y="205.5" width="2" height="21" fill="#90ee90" stroke="#2f4f4f" stroke-width="1"/><line x1="976.5" y1="215" x2="976.5" y2="236" stroke="#2f4f4f" stroke-width="1"/><rect x="975.5" y="226.5" width="2" height="7" fill="#90ee90" stroke="#2f4f4f" stroke-width="1"/><line x1="980.5" y1="219" x2="980.5" y2="235" stroke="#8b0000" stroke-width="1"/><rect x="979.5" y="226.5" width="2" height="7" fill="#ff0000" stroke="#8b0000" stroke-width="1"/><line x1="984.5" y1="232" x2="984.5" y2="256" stroke="#8b0000" stroke-width="1"/><rect x="983.5" y="236.5" width="2" height="12" fill="#ff0000" stroke="#8b0000" stroke-width="1"/><line x1="988.5" y1="234" x2="988.5" y2="270" stroke="#2f4f4f" stroke-width="1"/><rect x="987.5" y="236.5" width="2" height="20" fill="#90ee90" stroke="#2f4f4f" stroke-width="1"/><line x1="992.5" y1="240" x2="992.5" y2="259" stroke="#8b0000" stroke-width="1"/><rect x="991.5" y="245.5" width="2" height="11" fill="#ff0000" stroke="#8b0000" stroke-width="1"/><line x1="996.5" y1="206" x2="996.5" y2="250" stroke="#8b0000" stroke-width="1"/><rect x="995.5" y="214.5" width="2" height="30" fill="#ff0000" stroke="#8b0000" stroke-width="1"/><line x1="1000.5" y1="190" x2="1000.5" y2="223" stroke="#8b0000" stroke-width="1"/><rect x="999.5" y="196.5" width="2" height="16" fill="#ff0000" stroke="#8b0000" stroke-width="1"/><line x1="1004.5" y1="177" x2="1004.5" y2="200" stroke="#8b0000" stroke-width="1"/><rect x="1003.5" y="180.5" width="2" height="16" fill="#ff0000" stroke="#8b0000" stroke-width="1"/><line x1="1008.5" y1="178" x2="1008.5" y2="253" stroke="#2f4f4f" stroke-width="1"/><rect x="1007.5" y="207.5" width="2" height="22" fill="#90ee90" stroke="#2f4f4f" stroke-width="1"/><line x1="1012.5" y1="224" x2="1012.5" y2="306" stroke="#2f4f4f" stroke-width="1"/><rect x="1011.5" y="229.5" width="2" height="46" fill="#90ee90" stroke="#2f4f4f" stroke-width="1"/><line x1="1016.5" y1="274" x2="1016.5" y2="295" stroke="#2f4f4f" stroke-width="1"/><rect x="1015.5" y="276.5" width="2" height="12" fill="#90ee90" stroke="#2f4f4f" stroke-width="1"/><line x1="1020.5" y1="280" x2="1020.5" y2="306" stroke="#2f4f4f" stroke-width="1"/><rect x="1019.5" y="296.5" width="2" height="6" fill="#90ee90" stroke="#2f4f4f" stroke-width="1"/><line x1="1024.5" y1="295" x2="1024.5" y2="332" stroke="#2f4f4f" stroke-width="1"/><rect x="1023.5" y="302.5" width="2" height="23" fill="#90ee90" stroke="#2f4f4f" stroke-width="1"/><line x1="1028.5" y1="310" x2="1028.5" y2="331" stroke="#8b0000" stroke-width="1"/><rect x="1027.5" y="318.5" width="2" height="8" fill="#ff0000" stroke="#8b0000" stroke-width="1"/><line x1="1032.5" y1="323" x2="1032.5" y2="369" stroke="#2f4f4f" stroke-width="1"/><rect x="1031.5" y="324.5" width="2" height="40" fill="#90ee90" stroke="#2f4f4f" stroke-width="1"/><line x1="1036.5" y1="344" x2="1036.5" y2="369" stroke="#8b0000" stroke-width="1"/><rect x="1035.5" y="348.5" width="2" height="16" fill="#ff0000" stroke="#8b0000" stroke-width="1"/></g><g clip-path="url(#cm)"><polygon points="760.8,35.1 825.9,193.8 820.0,196.4 840.0,216.0 839.2,188.0 833.3,190.6 761.2,34.9" fill="#ff5555"/><polygon points="841.1,216.2 914.2,185.7 917.0,191.6 936.0,171.0 908.0,172.6 910.8,178.5 840.9,215.8" fill="#ff5555"/><polygon points="940.3,171.1 968.8,244.8 962.9,247.5 983.0,267.0 982.1,239.0 976.1,241.6 940.7,170.9" fill="#ff5555"/><polygon points="989.2,269.1 1006.4,207.3 1012.8,208.6 1008.0,181.0 992.2,204.2 998.6,205.6 988.8,268.9" fill="#ff5555"/><polygon points="1010.8,179.1 1058.9,390.5 1052.6,392.0 1068.0,413.0 1072.0,387.3 1065.7,388.9 1011.2,178.9" fill="#ff5555"/><polygon points="1068.2,413.1 1098.9,329.9 1105.0,331.9 1103.0,306.0 1086.0,325.7 1092.2,327.7 1067.8,412.9" fill="#ff5555"/></g><line x1="0" y1="545.5" x2="1136" y2="545.5" stroke="#000" stroke-width="1" /><line x1="0" y1="547.5" x2="1136" y2="547.5" stroke="#000" stroke-width="1" /><line x1="0" y1="666.5" x2="1136" y2="666.5" stroke="#000" stroke-width="1" /><line x1="0" y1="668.5" x2="1136" y2="668.5" stroke="#000" stroke-width="1" /><line x1="0" y1="783.5" x2="1137" y2="783.5" stroke="#000" stroke-width="1" /><line x1="1136.5" y1="0" x2="1136.5" y2="546" stroke="#000" stroke-width="1" /><line x1="1136.5" y1="547" x2="1136.5" y2="667" stroke="#000" stroke-width="1" /><line x1="1136.5" y1="668" x2="1136.5" y2="784" stroke="#000" stroke-width="1" /><line x1="1136" y1="14.5" x2="1139" y2="14.5" stroke="#000" stroke-width="1" /><text x="1142" y="18" fill="#000" font-family="Liberation Sans, sans-serif" font-size="10" letter-spacing="-0.4" >563.30</text><line x1="1136" y1="47.5" x2="1139" y2="47.5" stroke="#000" stroke-width="1" /><text x="1142" y="51" fill="#000" font-family="Liberation Sans, sans-serif" font-size="10" letter-spacing="-0.4" >547.10</text><line x1="1136" y1="80.5" x2="1139" y2="80.5" stroke="#000" stroke-width="1" /><text x="1142" y="84" fill="#000" font-family="Liberation Sans, sans-serif" font-size="10" letter-spacing="-0.4" >530.90</text><line x1="1136" y1="113.5" x2="1139" y2="113.5" stroke="#000" stroke-width="1" /><text x="1142" y="117" fill="#000" font-family="Liberation Sans, sans-serif" font-size="10" letter-spacing="-0.4" >514.70</text><line x1="1136" y1="146.5" x2="1139" y2="146.5" stroke="#000" stroke-width="1" /><text x="1142" y="150" fill="#000" font-family="Liberation Sans, sans-serif" font-size="10" letter-spacing="-0.4" >498.50</text><line x1="1136" y1="179.5" x2="1139" y2="179.5" stroke="#000" stroke-width="1" /><text x="1142" y="183" fill="#000" font-family="Liberation Sans, sans-serif" font-size="10" letter-spacing="-0.4" >482.75</text><line x1="1136" y1="212.5" x2="1139" y2="212.5" stroke="#000" stroke-width="1" /><text x="1142" y="216" fill="#000" font-family="Liberation Sans, sans-serif" font-size="10" letter-spacing="-0.4" >466.55</text><line x1="1136" y1="245.5" x2="1139" y2="245.5" stroke="#000" stroke-width="1" /><text x="1142" y="249" fill="#000" font-family="Liberation Sans, sans-serif" font-size="10" letter-spacing="-0.4" >450.35</text><line x1="1136" y1="278.5" x2="1139" y2="278.5" stroke="#000" stroke-width="1" /><text x="1142" y="282" fill="#000" font-family="Liberation Sans, sans-serif" font-size="10" letter-spacing="-0.4" >434.15</text><line x1="1136" y1="311.5" x2="1139" y2="311.5" stroke="#000" stroke-width="1" /><text x="1142" y="315" fill="#000" font-family="Liberation Sans, sans-serif" font-size="10" letter-spacing="-0.4" >417.95</text><line x1="1136" y1="344.5" x2="1139" y2="344.5" stroke="#000" stroke-width="1" /><text x="1142" y="348" fill="#000" font-family="Liberation Sans, sans-serif" font-size="10" letter-spacing="-0.4" >401.75</text><line x1="1136" y1="377.5" x2="1139" y2="377.5" stroke="#000" stroke-width="1" /><text x="1142" y="381" fill="#000" font-family="Liberation Sans, sans-serif" font-size="10" letter-spacing="-0.4" >386.00</text><line x1="1136" y1="410.5" x2="1139" y2="410.5" stroke="#000" stroke-width="1" /><text x="1142" y="414" fill="#000" font-family="Liberation Sans, sans-serif" font-size="10" letter-spacing="-0.4" >369.80</text><line x1="1136" y1="443.5" x2="1139" y2="443.5" stroke="#000" stroke-width="1" /><text x="1142" y="447" fill="#000" font-family="Liberation Sans, sans-serif" font-size="10" letter-spacing="-0.4" >353.60</text><line x1="1136" y1="476.5" x2="1139" y2="476.5" stroke="#000" stroke-width="1" /><text x="1142" y="480" fill="#000" font-family="Liberation Sans, sans-serif" font-size="10" letter-spacing="-0.4" >337.40</text><line x1="1136" y1="509.5" x2="1139" y2="509.5" stroke="#000" stroke-width="1" /><text x="1142" y="513" fill="#000" font-family="Liberation Sans, sans-serif" font-size="10" letter-spacing="-0.4" >321.20</text><line x1="1136" y1="542.5" x2="1139" y2="542.5" stroke="#000" stroke-width="1" /><text x="1142" y="546" fill="#000" font-family="Liberation Sans, sans-serif" font-size="10" letter-spacing="-0.4" >305.45</text><rect x="1138" y="276" width="36" height="11" fill="#ff0000"/><text x="1141.5" y="285.1" fill="#fff" font-family="Liberation Sans, sans-serif" font-size="10" letter-spacing="-0.4" >432.39</text><rect x="1138" y="288" width="36" height="11" fill="#ff0000"/><text x="1141.5" y="297.1" fill="#fff" font-family="Liberation Sans, sans-serif" font-size="10" letter-spacing="-0.4" >426.31</text><rect x="1138" y="342" width="36" height="11" fill="#000"/><text x="1141.5" y="351.1" fill="#fff" font-family="Liberation Sans, sans-serif" font-size="10" letter-spacing="-0.4" >400.41</text><rect x="1138" y="410" width="36" height="11" fill="#ff0000"/><text x="1141.5" y="419.1" fill="#fff" font-family="Liberation Sans, sans-serif" font-size="10" letter-spacing="-0.4" >367.02</text><rect x="1138" y="423" width="36" height="11" fill="#ff0000"/><text x="1141.5" y="432.1" fill="#fff" font-family="Liberation Sans, sans-serif" font-size="10" letter-spacing="-0.4" >360.43</text><g clip-path="url(#cs)"><line x1="0" y1="566.5" x2="1136" y2="566.5" stroke="#ff0000" stroke-width="1" /><line x1="0" y1="584.5" x2="1134" y2="584.5" stroke="#ff0000" stroke-width="1" stroke-dasharray="9 3 3 3 3 3" stroke-dashoffset="16"/><line x1="0" y1="607.5" x2="1134" y2="607.5" stroke="#646464" stroke-width="1" stroke-dasharray="3 3" stroke-dashoffset="4"/><line x1="0" y1="630.5" x2="1134" y2="630.5" stroke="#0000ff" stroke-width="1" stroke-dasharray="9 3 3 3 3 3" stroke-dashoffset="16"/><line x1="0" y1="648.5" x2="1136" y2="648.5" stroke="#0000ff" stroke-width="1" /><polyline points="-3.5,596.2 0.5,608.1 4.5,600.7 8.5,598.9 12.5,614.5 16.5,614.7 20.5,617.3 24.5,617.5 28.5,617.1 32.5,614.5 36.5,615.9 40.5,616.1 44.5,617.6 48.5,619.1 52.5,618.3 56.5,619.0 60.5,618.1 64.5,615.2 68.5,611.4 72.5,613.7 76.5,619.1 80.5,621.7 84.5,622.2 88.5,622.0 92.5,625.6 96.5,625.8 100.5,628.5 104.5,620.2 108.5,618.2 112.5,622.2 116.5,626.4 120.5,626.7 124.5,625.3 128.5,625.9 132.5,623.0 136.5,618.9 140.5,621.6 144.5,619.1 148.5,618.4 152.5,618.7 156.5,613.7 160.5,611.7 164.5,613.7 168.5,615.1 172.5,620.1 176.5,625.9 180.5,619.9 184.5,618.4 188.5,622.8 192.5,625.5 196.5,629.5 200.5,625.9 204.5,617.7 208.5,615.2 212.5,609.5 216.5,606.4 220.5,607.3 224.5,614.3 228.5,616.5 232.5,621.3 236.5,618.4 240.5,611.0 244.5,608.3 248.5,605.0 252.5,604.3 256.5,602.9 260.5,603.6 264.5,588.3 268.5,587.2 272.5,586.9 276.5,587.6 280.5,587.5 284.5,585.9 288.5,587.1 292.5,584.9 296.5,583.9 300.5,582.9 304.5,582.2 308.5,584.1 312.5,582.7 316.5,582.2 320.5,583.6 324.5,583.0 328.5,587.3 332.5,584.6 336.5,584.2 340.5,584.9 344.5,585.1 348.5,584.7 352.5,583.4 356.5,582.6 360.5,581.6 364.5,579.7 368.5,580.0 372.5,581.1 376.5,580.0 380.5,578.3 384.5,579.5 388.5,578.8 392.5,579.8 396.5,578.9 400.5,578.1 404.5,578.0 408.5,574.0 412.5,572.9 416.5,571.8 420.5,571.4 424.5,570.8 428.5,575.9 432.5,580.6 436.5,578.3 440.5,577.7 444.5,579.1 448.5,575.8 452.5,578.8 456.5,578.6 460.5,578.6 464.5,577.1 468.5,577.9 472.5,575.7 476.5,573.9 480.5,579.1 484.5,580.9 488.5,584.7 492.5,585.1 496.5,579.7 500.5,580.7 504.5,580.1 508.5,572.4 512.5,568.3 516.5,579.7 520.5,583.2 524.5,583.0 528.5,587.1 532.5,592.7 536.5,593.3 540.5,592.5 544.5,590.7 548.5,591.6 552.5,593.9 556.5,594.6 560.5,598.2 564.5,602.9 568.5,607.3 572.5,609.1 576.5,608.0 580.5,608.7 584.5,611.7 588.5,610.0 592.5,606.3 596.5,606.8 600.5,611.7 604.5,609.9 608.5,607.8 612.5,610.4 616.5,614.4 620.5,612.3 624.5,609.9 628.5,611.4 632.5,605.1 636.5,603.0 640.5,600.9 644.5,604.9 648.5,602.9 652.5,601.0 656.5,599.7 660.5,603.0 664.5,605.3 668.5,606.4 672.5,605.1 676.5,602.1 680.5,601.4 684.5,600.4 688.5,599.3 692.5,598.9 696.5,593.0 700.5,591.9 704.5,592.2 708.5,596.3 712.5,604.5 716.5,603.6 720.5,608.2 724.5,605.4 728.5,606.6 732.5,609.7 736.5,603.2 740.5,603.9 744.5,599.7 748.5,599.3 752.5,597.8 756.5,591.6 760.5,583.9 764.5,597.6 768.5,600.3 772.5,603.4 776.5,606.1 780.5,610.5 784.5,613.7 788.5,616.6 792.5,619.9 796.5,614.5 800.5,613.8 804.5,612.4 808.5,610.6 812.5,612.6 816.5,609.5 820.5,615.5 824.5,620.2 828.5,621.6 832.5,625.6 836.5,626.5 840.5,628.3 844.5,620.1 848.5,615.1 852.5,615.8 856.5,615.2 860.5,618.3 864.5,620.0 868.5,619.3 872.5,614.1 876.5,612.1 880.5,615.6 884.5,618.5 888.5,616.0 892.5,618.8 896.5,620.4 900.5,618.3 904.5,614.2 908.5,611.2 912.5,610.4 916.5,610.2 920.5,609.8 924.5,609.8 928.5,609.6 932.5,609.4 936.5,611.1 940.5,616.6 944.5,620.1 948.5,618.3 952.5,611.1 956.5,613.1 960.5,615.3 964.5,614.9 968.5,618.4 972.5,622.8 976.5,624.8 980.5,625.2 984.5,629.2 988.5,630.9 992.5,629.7 996.5,619.9 1000.5,611.9 1004.5,606.2 1008.5,613.5 1012.5,623.6 1016.5,626.7 1020.5,627.9 1024.5,630.8 1028.5,631.7 1032.5,634.9 1036.5,636.1" fill="none" stroke="#ff0000" stroke-width="1" stroke-linejoin="round" shape-rendering="crispEdges"/><polyline points="-3.5,592.2 0.5,609.2 4.5,599.3 8.5,596.8 12.5,617.2 16.5,617.5 20.5,620.7 24.5,620.8 28.5,620.3 32.5,616.5 36.5,618.5 40.5,618.7 44.5,620.8 48.5,622.8 52.5,621.5 56.5,622.5 60.5,621.1 64.5,616.4 68.5,610.5 72.5,614.0 76.5,622.0 80.5,625.7 84.5,626.4 88.5,626.0 92.5,631.0 96.5,631.2 100.5,634.8 104.5,621.5 108.5,618.6 112.5,624.4 116.5,630.1 120.5,630.4 124.5,628.2 128.5,629.1 132.5,624.5 136.5,618.1 140.5,622.3 144.5,618.4 148.5,617.4 152.5,617.9 156.5,610.2 160.5,607.3 164.5,610.6 168.5,613.0 172.5,620.9 176.5,629.3 180.5,620.2 184.5,618.0 188.5,624.4 192.5,628.2 196.5,633.4 200.5,628.0 204.5,616.4 208.5,613.0 212.5,605.3 216.5,601.4 220.5,602.7 224.5,613.2 228.5,616.2 232.5,622.8 236.5,618.8 240.5,608.7 244.5,605.1 248.5,600.8 252.5,599.9 256.5,598.1 260.5,599.2 264.5,580.7 268.5,579.6 272.5,579.2 276.5,580.4 280.5,580.3 284.5,578.4 288.5,580.2 292.5,577.6 296.5,576.5 300.5,575.3 304.5,574.5 308.5,577.7 312.5,575.9 316.5,575.2 320.5,577.6 324.5,576.8 328.5,584.3 332.5,580.3 336.5,579.8 340.5,580.9 344.5,581.3 348.5,580.6 352.5,578.7 356.5,577.5 360.5,576.1 364.5,573.5 368.5,574.0 372.5,576.1 376.5,574.5 380.5,572.0 384.5,574.2 388.5,573.2 392.5,575.0 396.5,573.8 400.5,572.6 404.5,572.4 408.5,566.9 412.5,565.6 416.5,564.3 420.5,563.9 424.5,563.2 428.5,572.4 432.5,580.6 436.5,576.7 440.5,575.9 444.5,578.2 448.5,573.2 452.5,578.1 456.5,577.7 460.5,577.7 464.5,575.4 468.5,576.7 472.5,573.2 476.5,570.6 480.5,579.1 484.5,582.0 488.5,588.1 492.5,588.7 496.5,579.6 500.5,581.2 504.5,580.2 508.5,569.4 512.5,564.6 516.5,580.2 520.5,584.7 524.5,584.5 528.5,590.1 532.5,597.4 536.5,598.2 540.5,596.9 544.5,594.1 548.5,595.4 552.5,598.6 556.5,599.5 560.5,604.7 564.5,610.9 568.5,616.6 572.5,618.9 576.5,616.8 580.5,617.8 584.5,621.7 588.5,618.6 592.5,612.2 596.5,612.8 600.5,619.5 604.5,616.5 608.5,612.9 612.5,616.5 616.5,621.9 620.5,618.4 624.5,614.2 628.5,616.5 632.5,606.2 636.5,602.9 640.5,599.8 644.5,605.9 648.5,602.9 652.5,600.0 656.5,598.0 660.5,603.2 664.5,606.6 668.5,608.4 672.5,606.2 676.5,601.4 680.5,600.4 684.5,598.7 688.5,597.0 692.5,596.3 696.5,587.5 700.5,585.9 704.5,586.5 708.5,593.6 712.5,606.7 716.5,605.2 720.5,612.2 724.5,607.5 728.5,609.4 732.5,613.9 736.5,603.6 740.5,604.7 744.5,598.2 748.5,597.6 752.5,595.5 756.5,586.7 760.5,577.2 764.5,596.9 768.5,600.5 772.5,604.8 776.5,608.3 780.5,614.1 784.5,618.1 788.5,621.8 792.5,625.8 796.5,617.9 800.5,616.9 804.5,614.8 808.5,612.1 812.5,614.9 816.5,610.3 820.5,618.6 824.5,624.7 828.5,626.5 832.5,631.4 836.5,632.5 840.5,634.6 844.5,622.4 848.5,615.3 852.5,616.3 856.5,615.3 860.5,619.8 864.5,622.2 868.5,621.1 872.5,613.4 876.5,610.4 880.5,615.7 884.5,619.9 888.5,616.2 892.5,620.3 896.5,622.5 900.5,619.4 904.5,613.2 908.5,608.7 912.5,607.5 916.5,607.3 920.5,606.7 924.5,606.7 928.5,606.4 932.5,606.1 936.5,609.2 940.5,618.4 944.5,623.8 948.5,620.7 952.5,609.2 956.5,612.4 960.5,616.0 964.5,615.3 968.5,620.7 972.5,627.0 976.5,629.8 980.5,630.3 984.5,635.6 988.5,637.7 992.5,635.6 996.5,620.2 1000.5,608.8 1004.5,601.2 1008.5,612.1 1012.5,625.5 1016.5,629.3 1020.5,630.9 1024.5,634.4 1028.5,635.5 1032.5,639.2 1036.5,640.5" fill="none" stroke="#0000ff" stroke-width="1" stroke-linejoin="round" shape-rendering="crispEdges"/><polyline points="-3.5,581.6 0.5,613.2 4.5,596.7 8.5,592.8 12.5,624.0 16.5,624.4 20.5,628.8 24.5,629.0 28.5,628.0 32.5,619.8 36.5,623.5 40.5,623.8 44.5,628.0 48.5,631.8 52.5,628.3 56.5,630.5 60.5,626.3 64.5,613.7 68.5,600.2 72.5,609.9 76.5,627.6 80.5,634.0 84.5,635.3 88.5,634.3 92.5,642.6 96.5,642.8 100.5,647.9 104.5,618.7 108.5,613.0 112.5,625.3 116.5,635.3 120.5,635.7 124.5,631.0 128.5,632.8 132.5,622.5 136.5,609.4 140.5,619.4 144.5,611.8 148.5,609.7 152.5,611.1 156.5,595.9 160.5,590.9 164.5,600.6 168.5,607.0 172.5,624.7 176.5,638.4 180.5,620.7 184.5,616.6 188.5,628.2 192.5,634.2 196.5,641.7 200.5,631.4 204.5,611.1 208.5,605.7 212.5,594.1 216.5,588.5 220.5,591.5 224.5,612.8 228.5,618.1 232.5,629.0 236.5,621.2 240.5,603.6 244.5,597.9 248.5,591.2 252.5,589.7 256.5,587.0 260.5,589.7 264.5,566.3 268.5,565.3 272.5,564.9 276.5,567.4 280.5,567.3 284.5,565.0 288.5,569.6 292.5,566.0 296.5,564.4 300.5,563.0 304.5,561.9 308.5,570.6 312.5,567.4 316.5,566.2 320.5,573.1 324.5,571.3 328.5,590.8 332.5,580.2 336.5,579.0 340.5,581.8 344.5,582.9 348.5,581.0 352.5,575.7 356.5,572.6 360.5,569.5 364.5,564.5 368.5,565.9 372.5,572.3 376.5,568.5 380.5,563.8 384.5,570.0 388.5,567.9 392.5,573.1 396.5,570.0 400.5,567.2 404.5,566.8 408.5,558.0 412.5,556.6 416.5,555.3 420.5,554.9 424.5,554.3 428.5,575.5 432.5,591.9 436.5,581.8 440.5,579.7 444.5,584.5 448.5,572.9 452.5,582.6 456.5,581.7 460.5,581.7 464.5,575.8 468.5,578.8 472.5,570.9 476.5,566.2 480.5,583.8 484.5,589.5 488.5,600.9 492.5,601.9 496.5,580.0 500.5,583.1 504.5,580.8 508.5,563.7 512.5,558.6 516.5,582.5 520.5,589.3 524.5,588.8 528.5,597.7 532.5,608.9 536.5,610.1 540.5,607.1 544.5,600.3 548.5,602.8 552.5,608.9 556.5,610.8 560.5,620.1 564.5,629.9 568.5,637.3 572.5,640.0 576.5,634.3 580.5,635.7 584.5,641.0 588.5,632.3 592.5,615.7 596.5,617.0 600.5,630.0 604.5,622.6 608.5,613.9 612.5,621.7 616.5,631.4 620.5,623.1 624.5,613.9 628.5,618.8 632.5,598.1 636.5,592.5 640.5,587.5 644.5,601.6 648.5,596.0 652.5,590.8 656.5,587.4 660.5,599.9 664.5,607.6 668.5,611.3 672.5,606.2 676.5,595.6 680.5,593.5 684.5,590.0 688.5,586.5 692.5,585.0 696.5,570.8 700.5,568.9 704.5,570.5 708.5,589.4 712.5,616.1 716.5,612.6 720.5,624.4 724.5,613.7 728.5,617.0 732.5,624.9 736.5,602.7 740.5,604.9 744.5,592.8 748.5,591.8 752.5,587.9 756.5,574.5 760.5,564.2 764.5,597.7 768.5,603.3 772.5,609.8 776.5,615.2 780.5,623.8 784.5,629.4 788.5,634.2 792.5,639.2 796.5,623.2 800.5,621.2 804.5,616.8 808.5,611.3 812.5,617.2 816.5,607.4 820.5,623.8 824.5,633.5 828.5,636.1 832.5,642.8 836.5,644.2 840.5,646.8 844.5,621.7 848.5,609.1 852.5,611.2 856.5,609.4 860.5,619.3 864.5,624.3 868.5,621.8 872.5,605.9 876.5,600.4 880.5,613.0 884.5,621.8 888.5,614.0 892.5,622.7 896.5,627.0 900.5,620.0 904.5,607.1 908.5,598.8 912.5,596.6 916.5,596.1 920.5,595.0 924.5,595.0 928.5,594.3 932.5,593.5 936.5,604.8 940.5,628.3 944.5,637.6 948.5,629.4 952.5,604.0 956.5,611.0 960.5,618.4 964.5,616.9 968.5,627.6 972.5,637.7 976.5,641.5 980.5,642.2 984.5,648.8 988.5,651.0 992.5,646.3 996.5,615.3 1000.5,597.3 1004.5,587.1 1008.5,608.1 1012.5,629.0 1016.5,634.2 1020.5,636.4 1024.5,641.1 1028.5,642.5 1032.5,647.2 1036.5,648.9" fill="none" stroke="#000000" stroke-width="1" stroke-linejoin="round" shape-rendering="crispEdges"/></g><text x="1140" y="558" fill="#000" font-family="Liberation Sans, sans-serif" font-size="10" letter-spacing="-0.4" >100</text><rect x="1138" y="560" width="39" height="11" fill="#ff0000"/><text x="1141.5" y="569.1" fill="#fff" font-family="Liberation Sans, sans-serif" font-size="10" letter-spacing="-0.4" >85.0000</text><rect x="1138" y="578" width="39" height="11" fill="#ff0000"/><text x="1141.5" y="587.1" fill="#fff" font-family="Liberation Sans, sans-serif" font-size="10" letter-spacing="-0.4" >70.0000</text><text x="1139.5" y="611" fill="#000" font-family="Liberation Sans, sans-serif" font-size="10" letter-spacing="-0.4" >50</text><rect x="1138" y="624" width="39" height="11" fill="#0000ff"/><text x="1141.5" y="633.1" fill="#fff" font-family="Liberation Sans, sans-serif" font-size="10" letter-spacing="-0.4" >30.0000</text><rect x="1138" y="642" width="39" height="11" fill="#0000ff"/><text x="1141.5" y="651.1" fill="#fff" font-family="Liberation Sans, sans-serif" font-size="10" letter-spacing="-0.4" >15.0000</text><text x="1140" y="663" fill="#000" font-family="Liberation Sans, sans-serif" font-size="10" letter-spacing="-0.4" >0</text><g clip-path="url(#cd)"><rect x="-1" y="723.0" width="3" height="2.0" fill="#ffa07a"/><rect x="3" y="719.9" width="3" height="3.1" fill="#1e90ff"/><rect x="7" y="723.0" width="3" height="1.0" fill="#ffa07a"/><rect x="11" y="723.0" width="3" height="20.8" fill="#ffa07a"/><rect x="15" y="723.0" width="3" height="22.7" fill="#ffa07a"/><rect x="19" y="723.0" width="3" height="21.0" fill="#ffa07a"/><rect x="23" y="723.0" width="3" height="14.3" fill="#ffa07a"/><rect x="27" y="723.0" width="3" height="8.1" fill="#ffa07a"/><rect x="31" y="723.0" width="3" height="2.0" fill="#ffa07a"/><rect x="35" y="723.0" width="3" height="3.0" fill="#ffa07a"/><rect x="39" y="722.8" width="3" height="1.0" fill="#1e90ff"/><rect x="43" y="721.5" width="3" height="1.5" fill="#1e90ff"/><rect x="47" y="722.1" width="3" height="1.0" fill="#1e90ff"/><rect x="51" y="720.6" width="3" height="2.4" fill="#1e90ff"/><rect x="55" y="721.1" width="3" height="1.9" fill="#1e90ff"/><rect x="59" y="720.2" width="3" height="2.8" fill="#1e90ff"/><rect x="63" y="716.2" width="3" height="6.8" fill="#1e90ff"/><rect x="67" y="714.9" width="3" height="8.1" fill="#1e90ff"/><rect x="71" y="721.3" width="3" height="1.7" fill="#1e90ff"/><rect x="75" y="723.0" width="3" height="2.8" fill="#ffa07a"/><rect x="79" y="723.0" width="3" height="7.0" fill="#ffa07a"/><rect x="83" y="723.0" width="3" height="5.3" fill="#ffa07a"/><rect x="87" y="723.0" width="3" height="7.8" fill="#ffa07a"/><rect x="91" y="723.0" width="3" height="2.8" fill="#ffa07a"/><rect x="95" y="723.0" width="3" height="5.6" fill="#ffa07a"/><rect x="99" y="723.0" width="3" height="2.6" fill="#ffa07a"/><rect x="103" y="716.3" width="3" height="6.7" fill="#1e90ff"/><rect x="107" y="716.9" width="3" height="6.1" fill="#1e90ff"/><rect x="111" y="719.8" width="3" height="3.2" fill="#1e90ff"/><rect x="115" y="723.0" width="3" height="6.5" fill="#ffa07a"/><rect x="119" y="723.0" width="3" height="7.2" fill="#ffa07a"/><rect x="123" y="723.0" width="3" height="2.9" fill="#ffa07a"/><rect x="127" y="723.0" width="3" height="2.5" fill="#ffa07a"/><rect x="131" y="717.6" width="3" height="5.4" fill="#1e90ff"/><rect x="135" y="715.1" width="3" height="7.9" fill="#1e90ff"/><rect x="139" y="718.7" width="3" height="4.3" fill="#1e90ff"/><rect x="143" y="717.1" width="3" height="5.9" fill="#1e90ff"/><rect x="147" y="718.3" width="3" height="4.7" fill="#1e90ff"/><rect x="151" y="716.2" width="3" height="6.8" fill="#1e90ff"/><rect x="155" y="715.4" width="3" height="7.6" fill="#1e90ff"/><rect x="159" y="715.0" width="3" height="8.0" fill="#1e90ff"/><rect x="163" y="720.7" width="3" height="2.3" fill="#1e90ff"/><rect x="167" y="721.4" width="3" height="1.6" fill="#1e90ff"/><rect x="171" y="723.0" width="3" height="7.4" fill="#ffa07a"/><rect x="175" y="723.0" width="3" height="10.8" fill="#ffa07a"/><rect x="179" y="723.0" width="3" height="4.3" fill="#ffa07a"/><rect x="183" y="723.0" width="3" height="1.4" fill="#ffa07a"/><rect x="187" y="723.0" width="3" height="5.9" fill="#ffa07a"/><rect x="191" y="723.0" width="3" height="14.3" fill="#ffa07a"/><rect x="195" y="723.0" width="3" height="14.2" fill="#ffa07a"/><rect x="199" y="723.0" width="3" height="11.7" fill="#ffa07a"/><rect x="203" y="707.1" width="3" height="15.9" fill="#1e90ff"/><rect x="207" y="707.2" width="3" height="15.8" fill="#1e90ff"/><rect x="211" y="705.1" width="3" height="17.9" fill="#1e90ff"/><rect x="215" y="709.2" width="3" height="13.8" fill="#1e90ff"/><rect x="219" y="712.8" width="3" height="10.2" fill="#1e90ff"/><rect x="223" y="723.0" width="3" height="3.6" fill="#ffa07a"/><rect x="227" y="723.0" width="3" height="9.8" fill="#ffa07a"/><rect x="231" y="723.0" width="3" height="15.0" fill="#ffa07a"/><rect x="235" y="723.0" width="3" height="8.2" fill="#ffa07a"/><rect x="239" y="721.9" width="3" height="1.1" fill="#1e90ff"/><rect x="243" y="710.0" width="3" height="13.0" fill="#1e90ff"/><rect x="247" y="705.7" width="3" height="17.3" fill="#1e90ff"/><rect x="251" y="708.8" width="3" height="14.2" fill="#1e90ff"/><rect x="255" y="711.3" width="3" height="11.7" fill="#1e90ff"/><rect x="259" y="716.2" width="3" height="6.8" fill="#1e90ff"/><rect x="263" y="698.2" width="3" height="24.8" fill="#1e90ff"/><rect x="267" y="692.8" width="3" height="30.2" fill="#1e90ff"/><rect x="271" y="698.6" width="3" height="24.4" fill="#1e90ff"/><rect x="275" y="710.0" width="3" height="13.0" fill="#1e90ff"/><rect x="279" y="719.2" width="3" height="3.8" fill="#1e90ff"/><rect x="283" y="722.1" width="3" height="1.0" fill="#1e90ff"/><rect x="287" y="723.0" width="3" height="2.6" fill="#ffa07a"/><rect x="291" y="722.1" width="3" height="1.0" fill="#1e90ff"/><rect x="295" y="723.0" width="3" height="1.0" fill="#ffa07a"/><rect x="299" y="723.0" width="3" height="1.5" fill="#ffa07a"/><rect x="303" y="723.0" width="3" height="4.4" fill="#ffa07a"/><rect x="307" y="723.0" width="3" height="6.0" fill="#ffa07a"/><rect x="311" y="723.0" width="3" height="4.5" fill="#ffa07a"/><rect x="315" y="723.0" width="3" height="5.8" fill="#ffa07a"/><rect x="319" y="723.0" width="3" height="11.2" fill="#ffa07a"/><rect x="323" y="723.0" width="3" height="10.9" fill="#ffa07a"/><rect x="327" y="723.0" width="3" height="13.3" fill="#ffa07a"/><rect x="331" y="723.0" width="3" height="6.0" fill="#ffa07a"/><rect x="335" y="723.0" width="3" height="6.2" fill="#ffa07a"/><rect x="339" y="723.0" width="3" height="5.7" fill="#ffa07a"/><rect x="343" y="723.0" width="3" height="4.9" fill="#ffa07a"/><rect x="347" y="723.0" width="3" height="3.2" fill="#ffa07a"/><rect x="351" y="723.0" width="3" height="2.1" fill="#ffa07a"/><rect x="355" y="723.0" width="3" height="2.0" fill="#ffa07a"/><rect x="359" y="723.0" width="3" height="1.0" fill="#1e90ff"/><rect x="363" y="721.8" width="3" height="1.2" fill="#1e90ff"/><rect x="367" y="720.8" width="3" height="2.2" fill="#1e90ff"/><rect x="371" y="723.0" width="3" height="1.0" fill="#ffa07a"/><rect x="375" y="723.0" width="3" height="1.2" fill="#ffa07a"/><rect x="379" y="720.7" width="3" height="2.3" fill="#1e90ff"/><rect x="383" y="723.0" width="3" height="1.1" fill="#ffa07a"/><rect x="387" y="723.0" width="3" height="1.0" fill="#ffa07a"/><rect x="391" y="723.0" width="3" height="1.9" fill="#ffa07a"/><rect x="395" y="723.0" width="3" height="1.4" fill="#ffa07a"/><rect x="399" y="723.0" width="3" height="4.2" fill="#ffa07a"/><rect x="403" y="722.0" width="3" height="1.0" fill="#1e90ff"/><rect x="407" y="719.0" width="3" height="4.0" fill="#1e90ff"/><rect x="411" y="718.4" width="3" height="4.6" fill="#1e90ff"/><rect x="415" y="717.1" width="3" height="5.9" fill="#1e90ff"/><rect x="419" y="720.3" width="3" height="2.7" fill="#1e90ff"/><rect x="423" y="722.2" width="3" height="1.0" fill="#1e90ff"/><rect x="427" y="723.0" width="3" height="4.9" fill="#ffa07a"/><rect x="431" y="723.0" width="3" height="7.5" fill="#ffa07a"/><rect x="435" y="723.0" width="3" height="3.0" fill="#ffa07a"/><rect x="439" y="723.0" width="3" height="2.3" fill="#ffa07a"/><rect x="443" y="723.0" width="3" height="3.6" fill="#ffa07a"/><rect x="447" y="722.4" width="3" height="1.0" fill="#1e90ff"/><rect x="451" y="723.0" width="3" height="1.0" fill="#ffa07a"/><rect x="455" y="723.0" width="3" height="1.0" fill="#ffa07a"/><rect x="459" y="723.0" width="3" height="1.2" fill="#ffa07a"/><rect x="463" y="723.0" width="3" height="1.0" fill="#ffa07a"/><rect x="467" y="723.0" width="3" height="2.3" fill="#ffa07a"/><rect x="471" y="720.9" width="3" height="2.1" fill="#1e90ff"/><rect x="475" y="722.2" width="3" height="1.0" fill="#1e90ff"/><rect x="479" y="723.0" width="3" height="1.1" fill="#ffa07a"/><rect x="483" y="723.0" width="3" height="4.9" fill="#ffa07a"/><rect x="487" y="723.0" width="3" height="4.6" fill="#ffa07a"/><rect x="491" y="723.0" width="3" height="2.3" fill="#ffa07a"/><rect x="495" y="722.5" width="3" height="1.0" fill="#1e90ff"/><rect x="499" y="723.0" width="3" height="1.0" fill="#ffa07a"/><rect x="503" y="723.0" width="3" height="1.0" fill="#ffa07a"/><rect x="507" y="699.4" width="3" height="23.6" fill="#1e90ff"/><rect x="511" y="708.2" width="3" height="14.8" fill="#1e90ff"/><rect x="515" y="714.9" width="3" height="8.1" fill="#1e90ff"/><rect x="519" y="720.0" width="3" height="3.0" fill="#1e90ff"/><rect x="523" y="723.0" width="3" height="7.4" fill="#ffa07a"/><rect x="527" y="723.0" width="3" height="11.6" fill="#ffa07a"/><rect x="531" y="723.0" width="3" height="14.9" fill="#ffa07a"/><rect x="535" y="723.0" width="3" height="12.8" fill="#ffa07a"/><rect x="539" y="723.0" width="3" height="10.5" fill="#ffa07a"/><rect x="543" y="723.0" width="3" height="3.3" fill="#ffa07a"/><rect x="547" y="723.0" width="3" height="6.7" fill="#ffa07a"/><rect x="551" y="723.0" width="3" height="5.1" fill="#ffa07a"/><rect x="555" y="723.0" width="3" height="6.0" fill="#ffa07a"/><rect x="559" y="723.0" width="3" height="6.8" fill="#ffa07a"/><rect x="563" y="723.0" width="3" height="10.5" fill="#ffa07a"/><rect x="567" y="723.0" width="3" height="12.1" fill="#ffa07a"/><rect x="571" y="723.0" width="3" height="10.5" fill="#ffa07a"/><rect x="575" y="723.0" width="3" height="4.9" fill="#ffa07a"/><rect x="579" y="723.0" width="3" height="4.0" fill="#ffa07a"/><rect x="583" y="723.0" width="3" height="2.7" fill="#ffa07a"/><rect x="587" y="721.2" width="3" height="1.8" fill="#1e90ff"/><rect x="591" y="717.2" width="3" height="5.8" fill="#1e90ff"/><rect x="595" y="718.4" width="3" height="4.6" fill="#1e90ff"/><rect x="599" y="722.7" width="3" height="1.0" fill="#1e90ff"/><rect x="603" y="721.9" width="3" height="1.1" fill="#1e90ff"/><rect x="607" y="718.7" width="3" height="4.3" fill="#1e90ff"/><rect x="611" y="723.0" width="3" height="3.9" fill="#ffa07a"/><rect x="615" y="723.0" width="3" height="3.1" fill="#ffa07a"/><rect x="619" y="722.6" width="3" height="1.0" fill="#1e90ff"/><rect x="623" y="721.4" width="3" height="1.6" fill="#1e90ff"/><rect x="627" y="720.1" width="3" height="2.9" fill="#1e90ff"/><rect x="631" y="714.0" width="3" height="9.0" fill="#1e90ff"/><rect x="635" y="710.9" width="3" height="12.1" fill="#1e90ff"/><rect x="639" y="715.7" width="3" height="7.3" fill="#1e90ff"/><rect x="643" y="719.1" width="3" height="3.9" fill="#1e90ff"/><rect x="647" y="721.5" width="3" height="1.5" fill="#1e90ff"/><rect x="651" y="716.9" width="3" height="6.1" fill="#1e90ff"/><rect x="655" y="718.2" width="3" height="4.8" fill="#1e90ff"/><rect x="659" y="723.0" width="3" height="1.0" fill="#ffa07a"/><rect x="663" y="723.0" width="3" height="3.2" fill="#ffa07a"/><rect x="667" y="723.0" width="3" height="6.0" fill="#ffa07a"/><rect x="671" y="723.0" width="3" height="2.6" fill="#ffa07a"/><rect x="675" y="722.3" width="3" height="1.0" fill="#1e90ff"/><rect x="679" y="720.7" width="3" height="2.3" fill="#1e90ff"/><rect x="683" y="718.7" width="3" height="4.3" fill="#1e90ff"/><rect x="687" y="721.7" width="3" height="1.3" fill="#1e90ff"/><rect x="691" y="722.6" width="3" height="1.0" fill="#1e90ff"/><rect x="695" y="715.6" width="3" height="7.4" fill="#1e90ff"/><rect x="699" y="718.6" width="3" height="4.4" fill="#1e90ff"/><rect x="703" y="720.4" width="3" height="2.6" fill="#1e90ff"/><rect x="707" y="723.0" width="3" height="1.2" fill="#ffa07a"/><rect x="711" y="723.0" width="3" height="11.9" fill="#ffa07a"/><rect x="715" y="723.0" width="3" height="9.2" fill="#ffa07a"/><rect x="719" y="723.0" width="3" height="7.0" fill="#ffa07a"/><rect x="723" y="723.0" width="3" height="5.6" fill="#ffa07a"/><rect x="727" y="723.0" width="3" height="5.0" fill="#ffa07a"/><rect x="731" y="723.0" width="3" height="2.0" fill="#ffa07a"/><rect x="735" y="721.7" width="3" height="1.3" fill="#1e90ff"/><rect x="739" y="722.1" width="3" height="1.0" fill="#1e90ff"/><rect x="743" y="718.2" width="3" height="4.8" fill="#1e90ff"/><rect x="747" y="717.8" width="3" height="5.2" fill="#1e90ff"/><rect x="751" y="717.0" width="3" height="6.0" fill="#1e90ff"/><rect x="755" y="712.8" width="3" height="10.2" fill="#1e90ff"/><rect x="759" y="707.4" width="3" height="15.6" fill="#1e90ff"/><rect x="763" y="721.6" width="3" height="1.4" fill="#1e90ff"/><rect x="767" y="723.0" width="3" height="3.4" fill="#ffa07a"/><rect x="771" y="723.0" width="3" height="10.8" fill="#ffa07a"/><rect x="775" y="723.0" width="3" height="11.6" fill="#ffa07a"/><rect x="779" y="723.0" width="3" height="11.4" fill="#ffa07a"/><rect x="783" y="723.0" width="3" height="14.1" fill="#ffa07a"/><rect x="787" y="723.0" width="3" height="17.6" fill="#ffa07a"/><rect x="791" y="723.0" width="3" height="14.7" fill="#ffa07a"/><rect x="795" y="723.0" width="3" height="4.0" fill="#ffa07a"/><rect x="799" y="722.9" width="3" height="1.0" fill="#1e90ff"/><rect x="803" y="716.6" width="3" height="6.4" fill="#1e90ff"/><rect x="807" y="720.5" width="3" height="2.5" fill="#1e90ff"/><rect x="811" y="716.9" width="3" height="6.1" fill="#1e90ff"/><rect x="815" y="717.9" width="3" height="5.1" fill="#1e90ff"/><rect x="819" y="723.0" width="3" height="6.5" fill="#ffa07a"/><rect x="823" y="723.0" width="3" height="9.7" fill="#ffa07a"/><rect x="827" y="723.0" width="3" height="13.3" fill="#ffa07a"/><rect x="831" y="723.0" width="3" height="13.1" fill="#ffa07a"/><rect x="835" y="723.0" width="3" height="10.8" fill="#ffa07a"/><rect x="839" y="723.0" width="3" height="4.7" fill="#ffa07a"/><rect x="843" y="717.0" width="3" height="6.0" fill="#1e90ff"/><rect x="847" y="709.6" width="3" height="13.4" fill="#1e90ff"/><rect x="851" y="712.2" width="3" height="10.8" fill="#1e90ff"/><rect x="855" y="712.4" width="3" height="10.6" fill="#1e90ff"/><rect x="859" y="721.4" width="3" height="1.6" fill="#1e90ff"/><rect x="863" y="722.5" width="3" height="1.0" fill="#1e90ff"/><rect x="867" y="721.2" width="3" height="1.8" fill="#1e90ff"/><rect x="871" y="715.6" width="3" height="7.4" fill="#1e90ff"/><rect x="875" y="713.7" width="3" height="9.3" fill="#1e90ff"/><rect x="879" y="723.0" width="3" height="1.0" fill="#ffa07a"/><rect x="883" y="722.2" width="3" height="1.0" fill="#1e90ff"/><rect x="887" y="723.0" width="3" height="2.7" fill="#ffa07a"/><rect x="891" y="723.0" width="3" height="5.1" fill="#ffa07a"/><rect x="895" y="723.0" width="3" height="3.9" fill="#ffa07a"/><rect x="899" y="723.0" width="3" height="1.2" fill="#ffa07a"/><rect x="903" y="718.0" width="3" height="5.0" fill="#1e90ff"/><rect x="907" y="715.7" width="3" height="7.3" fill="#1e90ff"/><rect x="911" y="715.3" width="3" height="7.7" fill="#1e90ff"/><rect x="915" y="716.0" width="3" height="7.0" fill="#1e90ff"/><rect x="919" y="717.1" width="3" height="5.9" fill="#1e90ff"/><rect x="923" y="718.8" width="3" height="4.2" fill="#1e90ff"/><rect x="927" y="720.1" width="3" height="2.9" fill="#1e90ff"/><rect x="931" y="721.4" width="3" height="1.6" fill="#1e90ff"/><rect x="935" y="723.0" width="3" height="3.0" fill="#ffa07a"/><rect x="939" y="723.0" width="3" height="11.5" fill="#ffa07a"/><rect x="943" y="723.0" width="3" height="10.6" fill="#ffa07a"/><rect x="947" y="723.0" width="3" height="6.0" fill="#ffa07a"/><rect x="951" y="721.4" width="3" height="1.6" fill="#1e90ff"/><rect x="955" y="722.4" width="3" height="1.0" fill="#1e90ff"/><rect x="959" y="721.9" width="3" height="1.1" fill="#1e90ff"/><rect x="963" y="723.0" width="3" height="1.0" fill="#ffa07a"/><rect x="967" y="723.0" width="3" height="5.1" fill="#ffa07a"/><rect x="971" y="723.0" width="3" height="11.9" fill="#ffa07a"/><rect x="975" y="723.0" width="3" height="13.1" fill="#ffa07a"/><rect x="979" y="723.0" width="3" height="7.6" fill="#ffa07a"/><rect x="983" y="723.0" width="3" height="6.5" fill="#ffa07a"/><rect x="987" y="723.0" width="3" height="10.1" fill="#ffa07a"/><rect x="991" y="723.0" width="3" height="4.2" fill="#ffa07a"/><rect x="995" y="713.0" width="3" height="10.0" fill="#1e90ff"/><rect x="999" y="703.8" width="3" height="19.2" fill="#1e90ff"/><rect x="1003" y="699.1" width="3" height="23.9" fill="#1e90ff"/><rect x="1007" y="718.4" width="3" height="4.6" fill="#1e90ff"/><rect x="1011" y="723.0" width="3" height="16.9" fill="#ffa07a"/><rect x="1015" y="723.0" width="3" height="23.6" fill="#ffa07a"/><rect x="1019" y="723.0" width="3" height="24.1" fill="#ffa07a"/><rect x="1023" y="723.0" width="3" height="25.0" fill="#ffa07a"/><rect x="1027" y="723.0" width="3" height="15.6" fill="#ffa07a"/><rect x="1031" y="723.0" width="3" height="22.0" fill="#ffa07a"/><rect x="1035" y="723.0" width="3" height="11.3" fill="#ffa07a"/><polyline points="-3.5,707.4 0.5,711.2 4.5,708.4 8.5,709.6 12.5,723.3 16.5,731.4 20.5,737.8 24.5,740.2 28.5,740.8 32.5,739.3 36.5,740.6 40.5,739.4 44.5,738.4 48.5,738.3 52.5,736.9 56.5,736.4 60.5,735.1 64.5,731.4 68.5,728.2 72.5,729.7 76.5,732.1 80.5,735.8 84.5,736.9 88.5,740.2 92.5,739.4 96.5,742.2 100.5,742.0 104.5,736.6 108.5,734.7 112.5,734.5 116.5,739.8 120.5,742.4 124.5,741.9 128.5,742.5 132.5,738.0 136.5,734.5 140.5,734.2 144.5,731.6 148.5,730.4 152.5,727.4 156.5,724.5 160.5,721.6 164.5,722.7 168.5,722.3 172.5,727.7 176.5,732.4 180.5,731.6 184.5,731.0 188.5,734.4 192.5,741.9 196.5,746.6 200.5,749.5 204.5,735.0 208.5,729.7 212.5,722.9 216.5,719.7 220.5,717.4 224.5,723.1 228.5,728.4 232.5,735.1 236.5,735.4 240.5,731.9 244.5,723.6 248.5,716.3 252.5,712.5 256.5,709.4 260.5,708.7 264.5,694.4 268.5,682.4 272.5,676.2 276.5,675.5 280.5,677.3 284.5,677.9 288.5,679.9 292.5,678.3 296.5,679.2 300.5,679.8 304.5,682.2 308.5,684.7 312.5,685.6 316.5,687.9 320.5,693.4 324.5,696.8 328.5,702.0 332.5,701.5 336.5,703.5 340.5,705.2 344.5,706.5 348.5,706.9 352.5,707.2 356.5,707.8 360.5,707.0 364.5,706.2 368.5,705.0 372.5,706.2 376.5,706.7 380.5,704.7 384.5,706.1 388.5,706.0 392.5,707.0 396.5,707.3 400.5,709.6 404.5,707.4 408.5,705.0 412.5,703.2 416.5,700.8 420.5,700.8 424.5,701.1 428.5,704.6 432.5,707.9 436.5,707.3 440.5,707.8 444.5,709.4 448.5,707.7 452.5,708.4 456.5,708.5 460.5,709.0 464.5,709.2 468.5,710.4 472.5,708.1 476.5,708.2 480.5,709.1 484.5,712.0 488.5,713.3 492.5,713.2 496.5,712.1 500.5,712.5 504.5,712.7 508.5,696.7 512.5,694.6 516.5,694.1 520.5,694.8 524.5,700.6 528.5,705.8 532.5,711.8 536.5,715.4 540.5,718.0 544.5,716.7 548.5,720.0 552.5,721.0 556.5,723.3 560.5,725.8 564.5,730.4 568.5,734.9 572.5,737.8 576.5,737.5 580.5,738.4 584.5,738.8 588.5,736.7 592.5,733.3 596.5,732.2 600.5,733.4 604.5,732.7 608.5,730.2 612.5,734.2 616.5,734.9 620.5,733.5 624.5,732.5 628.5,731.1 632.5,726.0 636.5,720.8 640.5,719.9 644.5,719.7 648.5,719.9 652.5,716.3 656.5,715.0 660.5,716.7 664.5,718.7 668.5,721.6 672.5,721.3 676.5,719.8 680.5,718.5 684.5,716.3 688.5,716.8 692.5,716.9 696.5,712.0 700.5,711.5 704.5,711.2 708.5,712.8 712.5,720.2 716.5,722.3 720.5,723.8 724.5,725.2 728.5,726.6 732.5,726.2 736.5,724.6 740.5,724.4 744.5,721.4 748.5,719.4 752.5,717.1 756.5,712.2 760.5,705.2 764.5,709.4 768.5,712.1 772.5,718.0 776.5,722.1 780.5,725.8 784.5,731.3 788.5,738.3 792.5,742.2 796.5,739.9 800.5,738.4 804.5,734.1 808.5,734.5 812.5,731.2 816.5,729.8 820.5,735.8 824.5,740.0 828.5,745.5 832.5,749.8 836.5,752.6 840.5,752.0 844.5,746.4 848.5,739.4 852.5,736.6 856.5,733.1 860.5,735.5 864.5,735.6 868.5,734.5 872.5,730.1 876.5,726.3 880.5,729.9 884.5,729.0 888.5,731.0 892.5,733.5 896.5,734.3 900.5,733.7 904.5,729.9 908.5,726.7 912.5,723.9 916.5,721.7 920.5,720.0 924.5,719.1 928.5,718.5 932.5,718.3 936.5,720.8 940.5,727.4 944.5,730.6 948.5,730.9 952.5,727.8 956.5,727.9 960.5,727.3 964.5,727.9 968.5,731.0 972.5,737.2 976.5,741.9 980.5,742.5 984.5,744.3 988.5,748.8 992.5,748.1 996.5,740.0 1000.5,730.5 1004.5,720.9 1008.5,725.7 1012.5,738.5 1016.5,748.5 1020.5,756.6 1024.5,765.2 1028.5,767.2 1032.5,776.6 1036.5,776.7" fill="none" stroke="#0000cd" stroke-width="2" stroke-linejoin="round" /><polyline points="-3.5,710.0 0.5,710.6 4.5,709.5 8.5,709.5 12.5,716.4 16.5,723.9 20.5,730.8 24.5,735.5 28.5,738.1 32.5,738.7 36.5,739.7 40.5,739.5 44.5,739.0 48.5,738.6 52.5,737.8 56.5,737.1 60.5,736.1 64.5,733.8 68.5,731.0 72.5,730.4 76.5,731.2 80.5,733.5 84.5,735.2 88.5,737.7 92.5,738.6 96.5,740.4 100.5,741.2 104.5,738.9 108.5,736.8 112.5,735.6 116.5,737.7 120.5,740.1 124.5,741.0 128.5,741.7 132.5,739.9 136.5,737.2 140.5,735.7 144.5,733.7 148.5,732.0 152.5,729.7 156.5,727.1 160.5,724.3 164.5,723.5 168.5,722.9 172.5,725.3 176.5,728.8 180.5,730.2 184.5,730.6 188.5,732.5 192.5,737.2 196.5,741.9 200.5,745.7 204.5,740.3 208.5,735.0 212.5,729.0 216.5,724.3 220.5,720.8 224.5,722.0 228.5,725.2 232.5,730.1 236.5,732.8 240.5,732.3 244.5,727.9 248.5,722.1 252.5,717.3 256.5,713.4 260.5,711.0 264.5,702.7 268.5,692.6 272.5,684.4 276.5,680.0 280.5,678.6 284.5,678.3 288.5,679.1 292.5,678.7 296.5,679.0 300.5,679.4 304.5,680.8 308.5,682.7 312.5,684.2 316.5,686.0 320.5,689.7 324.5,693.3 328.5,697.6 332.5,699.5 336.5,701.5 340.5,703.4 344.5,704.9 348.5,705.9 352.5,706.5 356.5,707.2 360.5,707.1 364.5,706.6 368.5,705.8 372.5,706.0 376.5,706.3 380.5,705.5 384.5,705.8 388.5,705.9 392.5,706.5 396.5,706.9 400.5,708.2 404.5,707.8 408.5,706.4 412.5,704.8 416.5,702.8 420.5,701.8 424.5,701.5 428.5,703.0 432.5,705.5 436.5,706.4 440.5,707.1 444.5,708.3 448.5,708.0 452.5,708.2 456.5,708.3 460.5,708.7 464.5,708.9 468.5,709.7 472.5,708.9 476.5,708.6 480.5,708.8 484.5,710.4 488.5,711.9 492.5,712.6 496.5,712.3 500.5,712.4 504.5,712.6 508.5,704.6 512.5,699.6 516.5,696.9 520.5,695.8 524.5,698.2 528.5,702.0 532.5,706.9 536.5,711.1 540.5,714.6 544.5,715.6 548.5,717.8 552.5,719.4 556.5,721.4 560.5,723.6 564.5,727.0 568.5,730.9 572.5,734.4 576.5,735.9 580.5,737.2 584.5,738.0 588.5,737.4 592.5,735.3 596.5,733.8 600.5,733.6 604.5,733.2 608.5,731.7 612.5,732.9 616.5,733.9 620.5,733.7 624.5,733.1 628.5,732.1 632.5,729.0 636.5,724.9 640.5,722.4 644.5,721.0 648.5,720.5 652.5,718.4 656.5,716.7 660.5,716.7 664.5,717.7 668.5,719.6 672.5,720.5 676.5,720.1 680.5,719.3 684.5,717.8 688.5,717.3 692.5,717.1 696.5,714.6 700.5,713.0 704.5,712.1 708.5,712.4 712.5,716.3 716.5,719.3 720.5,721.6 724.5,723.4 728.5,725.0 732.5,725.6 736.5,725.1 740.5,724.7 744.5,723.1 748.5,721.2 752.5,719.2 756.5,715.7 760.5,710.4 764.5,709.9 768.5,711.0 772.5,714.5 776.5,718.3 780.5,722.0 784.5,726.7 788.5,732.5 792.5,737.3 796.5,738.6 800.5,738.5 804.5,736.3 808.5,735.4 812.5,733.3 816.5,731.6 820.5,733.7 824.5,736.8 828.5,741.2 832.5,745.5 836.5,749.0 840.5,750.5 844.5,748.4 848.5,743.9 852.5,740.3 856.5,736.7 860.5,736.1 864.5,735.8 868.5,735.2 872.5,732.6 876.5,729.5 880.5,729.7 884.5,729.3 888.5,730.2 892.5,731.8 896.5,733.1 900.5,733.4 904.5,731.7 908.5,729.2 912.5,726.5 916.5,724.1 920.5,722.1 924.5,720.6 928.5,719.6 932.5,718.9 936.5,719.9 940.5,723.6 944.5,727.1 948.5,729.0 952.5,728.4 956.5,728.2 960.5,727.7 964.5,727.8 968.5,729.4 972.5,733.3 976.5,737.6 980.5,740.1 984.5,742.2 988.5,745.5 992.5,746.8 996.5,743.4 1000.5,737.0 1004.5,728.9 1008.5,727.3 1012.5,732.9 1016.5,740.7 1020.5,748.6 1024.5,756.9 1028.5,762.1 1032.5,769.3 1036.5,773.0" fill="none" stroke="#ff8c00" stroke-width="2" stroke-linejoin="round" /></g><circle cx="1038" cy="743" r="42.5" fill="none" stroke="#f05050" stroke-width="2"/><line x1="1136" y1="723.5" x2="1139" y2="723.5" stroke="#000" stroke-width="1" /><text x="1140.5" y="679.5" fill="#000" font-family="Liberation Sans, sans-serif" font-size="10" letter-spacing="-0.4" >15.2669</text><text x="1140.5" y="727.5" fill="#000" font-family="Liberation Sans, sans-serif" font-size="10" letter-spacing="-0.4" >0.00</text><text x="1140" y="780" fill="#000" font-family="Liberation Sans, sans-serif" font-size="10" letter-spacing="-0.4" >-17.0448</text><line x1="-31.5" y1="784" x2="-31.5" y2="787" stroke="#000" stroke-width="1" /><text x="-33" y="796" fill="#000" font-family="Liberation Sans, sans-serif" font-size="10" letter-spacing="-0.4" >14 Jan 2025</text><line x1="32.5" y1="784" x2="32.5" y2="787" stroke="#000" stroke-width="1" /><text x="31" y="796" fill="#000" font-family="Liberation Sans, sans-serif" font-size="10" letter-spacing="-0.4" >6 Feb 2025</text><line x1="96.5" y1="784" x2="96.5" y2="787" stroke="#000" stroke-width="1" /><text x="95" y="796" fill="#000" font-family="Liberation Sans, sans-serif" font-size="10" letter-spacing="-0.4" >3 Mar 2025</text><line x1="160.5" y1="784" x2="160.5" y2="787" stroke="#000" stroke-width="1" /><text x="159" y="796" fill="#000" font-family="Liberation Sans, sans-serif" font-size="10" letter-spacing="-0.4" >25 Mar 2025</text><line x1="224.5" y1="784" x2="224.5" y2="787" stroke="#000" stroke-width="1" /><text x="223" y="796" fill="#000" font-family="Liberation Sans, sans-serif" font-size="10" letter-spacing="-0.4" >16 Apr 2025</text><line x1="288.5" y1="784" x2="288.5" y2="787" stroke="#000" stroke-width="1" /><text x="287" y="796" fill="#000" font-family="Liberation Sans, sans-serif" font-size="10" letter-spacing="-0.4" >9 May 2025</text><line x1="352.5" y1="784" x2="352.5" y2="787" stroke="#000" stroke-width="1" /><text x="351" y="796" fill="#000" font-family="Liberation Sans, sans-serif" font-size="10" letter-spacing="-0.4" >3 Jun 2025</text><line x1="416.5" y1="784" x2="416.5" y2="787" stroke="#000" stroke-width="1" /><text x="415" y="796" fill="#000" font-family="Liberation Sans, sans-serif" font-size="10" letter-spacing="-0.4" >26 Jun 2025</text><line x1="480.5" y1="784" x2="480.5" y2="787" stroke="#000" stroke-width="1" /><text x="479" y="796" fill="#000" font-family="Liberation Sans, sans-serif" font-size="10" letter-spacing="-0.4" >21 Jul 2025</text><line x1="544.5" y1="784" x2="544.5" y2="787" stroke="#000" stroke-width="1" /><text x="543" y="796" fill="#000" font-family="Liberation Sans, sans-serif" font-size="10" letter-spacing="-0.4" >12 Aug 2025</text><line x1="608.5" y1="784" x2="608.5" y2="787" stroke="#000" stroke-width="1" /><text x="607" y="796" fill="#000" font-family="Liberation Sans, sans-serif" font-size="10" letter-spacing="-0.4" >4 Sep 2025</text><line x1="672.5" y1="784" x2="672.5" y2="787" stroke="#000" stroke-width="1" /><text x="671" y="796" fill="#000" font-family="Liberation Sans, sans-serif" font-size="10" letter-spacing="-0.4" >26 Sep 2025</text><line x1="736.5" y1="784" x2="736.5" y2="787" stroke="#000" stroke-width="1" /><text x="735" y="796" fill="#000" font-family="Liberation Sans, sans-serif" font-size="10" letter-spacing="-0.4" >20 Oct 2025</text><line x1="800.5" y1="784" x2="800.5" y2="787" stroke="#000" stroke-width="1" /><text x="799" y="796" fill="#000" font-family="Liberation Sans, sans-serif" font-size="10" letter-spacing="-0.4" >11 Nov 2025</text><line x1="864.5" y1="784" x2="864.5" y2="787" stroke="#000" stroke-width="1" /><text x="863" y="796" fill="#000" font-family="Liberation Sans, sans-serif" font-size="10" letter-spacing="-0.4" >4 Dec 2025</text><line x1="928.5" y1="784" x2="928.5" y2="787" stroke="#000" stroke-width="1" /><text x="927" y="796" fill="#000" font-family="Liberation Sans, sans-serif" font-size="10" letter-spacing="-0.4" >29 Dec 2025</text><line x1="992.5" y1="784" x2="992.5" y2="787" stroke="#000" stroke-width="1" /><text x="991" y="796" fill="#000" font-family="Liberation Sans, sans-serif" font-size="10" letter-spacing="-0.4" >22 Jan 2026</text><line x1="1177.5" y1="0" x2="1177.5" y2="800" stroke="#e2e2e2" stroke-width="1" /><line x1="1178.5" y1="0" x2="1178.5" y2="800" stroke="#ffffff" stroke-width="1" /></svg></body></html>
